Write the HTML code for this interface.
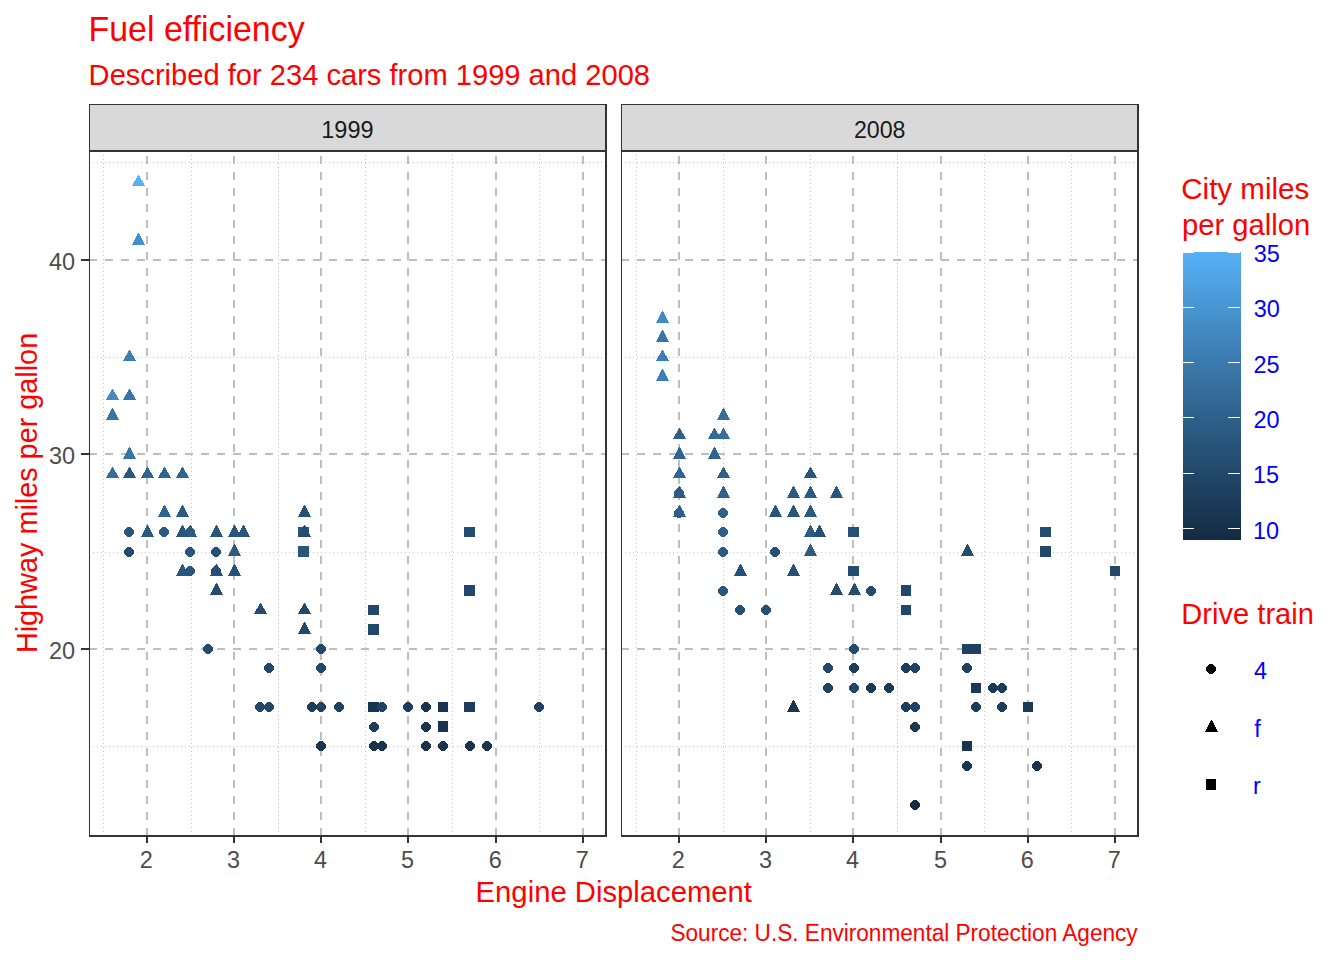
<!DOCTYPE html>
<html><head><meta charset="utf-8"><title>Fuel efficiency</title><style>html,body{margin:0;padding:0;background:#fff;width:1344px;height:960px;overflow:hidden}svg{display:block;font-family:"Liberation Sans",sans-serif}</style></head><body>
<svg width="1344" height="960" viewBox="0 0 1344 960" font-family="Liberation Sans, sans-serif">
<rect width="1344" height="960" fill="#FFFFFF"/>
<rect x="89" y="104" width="518" height="47" fill="#D9D9D9"/>
<g shape-rendering="crispEdges"><line x1="103.5" y1="836" x2="103.5" y2="152" stroke="#C4C4C4" stroke-width="1" stroke-dasharray="1 3"/><line x1="191.5" y1="836" x2="191.5" y2="152" stroke="#C4C4C4" stroke-width="1" stroke-dasharray="1 3"/><line x1="278.5" y1="836" x2="278.5" y2="152" stroke="#C4C4C4" stroke-width="1" stroke-dasharray="1 3"/><line x1="365.5" y1="836" x2="365.5" y2="152" stroke="#C4C4C4" stroke-width="1" stroke-dasharray="1 3"/><line x1="452.5" y1="836" x2="452.5" y2="152" stroke="#C4C4C4" stroke-width="1" stroke-dasharray="1 3"/><line x1="539.5" y1="836" x2="539.5" y2="152" stroke="#C4C4C4" stroke-width="1" stroke-dasharray="1 3"/><line x1="89" y1="162.5" x2="605" y2="162.5" stroke="#C4C4C4" stroke-width="1" stroke-dasharray="1 3"/><line x1="89" y1="357.5" x2="605" y2="357.5" stroke="#C4C4C4" stroke-width="1" stroke-dasharray="1 3"/><line x1="89" y1="552.5" x2="605" y2="552.5" stroke="#C4C4C4" stroke-width="1" stroke-dasharray="1 3"/><line x1="89" y1="746.5" x2="605" y2="746.5" stroke="#C4C4C4" stroke-width="1" stroke-dasharray="1 3"/><line x1="147" y1="836" x2="147" y2="152" stroke="#BEBEBE" stroke-width="2" stroke-dasharray="8 8"/><line x1="234" y1="836" x2="234" y2="152" stroke="#BEBEBE" stroke-width="2" stroke-dasharray="8 8"/><line x1="321" y1="836" x2="321" y2="152" stroke="#BEBEBE" stroke-width="2" stroke-dasharray="8 8"/><line x1="408" y1="836" x2="408" y2="152" stroke="#BEBEBE" stroke-width="2" stroke-dasharray="8 8"/><line x1="496" y1="836" x2="496" y2="152" stroke="#BEBEBE" stroke-width="2" stroke-dasharray="8 8"/><line x1="583" y1="836" x2="583" y2="152" stroke="#BEBEBE" stroke-width="2" stroke-dasharray="8 8"/><line x1="89" y1="260" x2="605" y2="260" stroke="#BEBEBE" stroke-width="2" stroke-dasharray="8 8"/><line x1="89" y1="454" x2="605" y2="454" stroke="#BEBEBE" stroke-width="2" stroke-dasharray="8 8"/><line x1="89" y1="649" x2="605" y2="649" stroke="#BEBEBE" stroke-width="2" stroke-dasharray="8 8"/></g>
<rect x="621" y="104" width="518" height="47" fill="#D9D9D9"/>
<g shape-rendering="crispEdges"><line x1="636.5" y1="836" x2="636.5" y2="152" stroke="#C4C4C4" stroke-width="1" stroke-dasharray="1 3"/><line x1="723.5" y1="836" x2="723.5" y2="152" stroke="#C4C4C4" stroke-width="1" stroke-dasharray="1 3"/><line x1="810.5" y1="836" x2="810.5" y2="152" stroke="#C4C4C4" stroke-width="1" stroke-dasharray="1 3"/><line x1="897.5" y1="836" x2="897.5" y2="152" stroke="#C4C4C4" stroke-width="1" stroke-dasharray="1 3"/><line x1="984.5" y1="836" x2="984.5" y2="152" stroke="#C4C4C4" stroke-width="1" stroke-dasharray="1 3"/><line x1="1071.5" y1="836" x2="1071.5" y2="152" stroke="#C4C4C4" stroke-width="1" stroke-dasharray="1 3"/><line x1="621" y1="162.5" x2="1137" y2="162.5" stroke="#C4C4C4" stroke-width="1" stroke-dasharray="1 3"/><line x1="621" y1="357.5" x2="1137" y2="357.5" stroke="#C4C4C4" stroke-width="1" stroke-dasharray="1 3"/><line x1="621" y1="552.5" x2="1137" y2="552.5" stroke="#C4C4C4" stroke-width="1" stroke-dasharray="1 3"/><line x1="621" y1="746.5" x2="1137" y2="746.5" stroke="#C4C4C4" stroke-width="1" stroke-dasharray="1 3"/><line x1="679" y1="836" x2="679" y2="152" stroke="#BEBEBE" stroke-width="2" stroke-dasharray="8 8"/><line x1="766" y1="836" x2="766" y2="152" stroke="#BEBEBE" stroke-width="2" stroke-dasharray="8 8"/><line x1="853" y1="836" x2="853" y2="152" stroke="#BEBEBE" stroke-width="2" stroke-dasharray="8 8"/><line x1="941" y1="836" x2="941" y2="152" stroke="#BEBEBE" stroke-width="2" stroke-dasharray="8 8"/><line x1="1028" y1="836" x2="1028" y2="152" stroke="#BEBEBE" stroke-width="2" stroke-dasharray="8 8"/><line x1="1115" y1="836" x2="1115" y2="152" stroke="#BEBEBE" stroke-width="2" stroke-dasharray="8 8"/><line x1="621" y1="260" x2="1137" y2="260" stroke="#BEBEBE" stroke-width="2" stroke-dasharray="8 8"/><line x1="621" y1="454" x2="1137" y2="454" stroke="#BEBEBE" stroke-width="2" stroke-dasharray="8 8"/><line x1="621" y1="649" x2="1137" y2="649" stroke="#BEBEBE" stroke-width="2" stroke-dasharray="8 8"/></g>
<g shape-rendering="crispEdges"><path d="M130 467L130 468L131 468L131 469L131 469L131 470L132 470L132 471L132 471L132 472L133 472L133 473L134 473L134 474L134 474L134 475L135 475L135 476L135 476L135 477L136 477L136 478L123 478L123 477L124 477L124 476L124 476L124 475L125 475L125 474L125 474L125 473L126 473L126 472L127 472L127 471L127 471L127 470L128 470L128 469L128 469L128 468L129 468L129 467Z" fill="#29567D"/><path d="M130 467L130 468L131 468L131 469L131 469L131 470L132 470L132 471L132 471L132 472L133 472L133 473L134 473L134 474L134 474L134 475L135 475L135 476L135 476L135 477L136 477L136 478L123 478L123 477L124 477L124 476L124 476L124 475L125 475L125 474L125 474L125 473L126 473L126 472L127 472L127 471L127 471L127 470L128 470L128 469L128 469L128 468L129 468L129 467Z" fill="#306591"/><path d="M680 428L680 429L681 429L681 430L681 430L681 431L682 431L682 432L682 432L682 433L683 433L683 434L684 434L684 435L684 435L684 436L685 436L685 437L685 437L685 438L686 438L686 439L673 439L673 438L674 438L674 437L674 437L674 436L675 436L675 435L675 435L675 434L676 434L676 433L677 433L677 432L677 432L677 431L678 431L678 430L678 430L678 429L679 429L679 428Z" fill="#2E608A"/><path d="M680 447L680 448L681 448L681 449L681 449L681 450L682 450L682 451L682 451L682 452L683 452L683 453L683 453L683 454L684 454L684 455L684 455L684 456L685 456L685 457L685 457L685 458L686 458L686 459L673 459L673 458L674 458L674 457L674 457L674 456L675 456L675 455L675 455L675 454L676 454L676 453L676 453L676 452L677 452L677 451L677 451L677 450L678 450L678 449L678 449L678 448L679 448L679 447Z" fill="#306591"/><path d="M217 525L217 526L218 526L218 527L218 527L218 528L219 528L219 529L219 529L219 530L220 530L220 531L220 531L220 532L221 532L221 533L221 533L221 534L222 534L222 535L222 535L222 536L223 536L223 537L210 537L210 536L211 536L211 535L211 535L211 534L212 534L212 533L212 533L212 532L213 532L213 531L213 531L213 530L214 530L214 529L214 529L214 528L215 528L215 527L215 527L215 526L216 526L216 525Z" fill="#244C6F"/><path d="M217 525L217 526L218 526L218 527L218 527L218 528L219 528L219 529L219 529L219 530L220 530L220 531L220 531L220 532L221 532L221 533L221 533L221 534L222 534L222 535L222 535L222 536L223 536L223 537L210 537L210 536L211 536L211 535L211 535L211 534L212 534L212 533L212 533L212 532L213 532L213 531L213 531L213 530L214 530L214 529L214 529L214 528L215 528L215 527L215 527L215 526L216 526L216 525Z" fill="#29567D"/><path d="M776 505L776 506L777 506L777 507L777 507L777 508L778 508L778 509L778 509L778 510L779 510L779 511L779 511L779 512L780 512L780 513L780 513L780 514L781 514L781 515L781 515L781 516L782 516L782 517L769 517L769 516L770 516L770 515L770 515L770 514L771 514L771 513L771 513L771 512L772 512L772 511L772 511L772 510L773 510L773 509L773 509L773 508L774 508L774 507L774 507L774 506L775 506L775 505Z" fill="#29567D"/><path d="M127 527L131 527L131 528L132 528L132 529L133 529L133 530L134 530L134 534L133 534L133 535L132 535L132 536L131 536L131 537L127 537L127 536L126 536L126 535L125 535L125 534L124 534L124 530L125 530L125 529L126 529L126 528L127 528Z" fill="#29567D"/><path d="M127 547L131 547L131 548L132 548L132 549L133 549L133 550L134 550L134 554L133 554L133 555L132 555L132 556L131 556L131 557L127 557L127 556L126 556L126 555L125 555L125 554L124 554L124 550L125 550L125 549L126 549L126 548L127 548Z" fill="#244C6F"/><path d="M677 488L681 488L681 489L682 489L682 490L683 490L683 491L684 491L684 495L683 495L683 496L682 496L682 497L681 497L681 498L677 498L677 497L676 497L676 496L675 496L675 495L674 495L674 491L675 491L675 490L676 490L676 489L677 489Z" fill="#2E608A"/><path d="M677 508L681 508L681 509L682 509L682 510L683 510L683 511L684 511L684 515L683 515L683 516L682 516L682 517L681 517L681 518L677 518L677 517L676 517L676 516L675 516L675 515L674 515L674 511L675 511L675 510L676 510L676 509L677 509Z" fill="#2B5B83"/><path d="M214 547L218 547L218 548L219 548L219 549L220 549L220 550L221 550L221 554L220 554L220 555L219 555L219 556L218 556L218 557L214 557L214 556L213 556L213 555L212 555L212 554L211 554L211 550L212 550L212 549L213 549L213 548L214 548Z" fill="#214769"/><path d="M214 547L218 547L218 548L219 548L219 549L220 549L220 550L221 550L221 554L220 554L220 555L219 555L219 556L218 556L218 557L214 557L214 556L213 556L213 555L212 555L212 554L211 554L211 550L212 550L212 549L213 549L213 548L214 548Z" fill="#265176"/><path d="M773 547L777 547L777 548L778 548L778 549L779 549L779 550L780 550L780 554L779 554L779 555L778 555L778 556L777 556L777 557L773 557L773 556L772 556L772 555L771 555L771 554L770 554L770 550L771 550L771 549L772 549L772 548L773 548Z" fill="#265176"/><path d="M773 547L777 547L777 548L778 548L778 549L779 549L779 550L780 550L780 554L779 554L779 555L778 555L778 556L777 556L777 557L773 557L773 556L772 556L772 555L771 555L771 554L770 554L770 550L771 550L771 549L772 549L772 548L773 548Z" fill="#214769"/><path d="M214 566L218 566L218 567L219 567L219 568L220 568L220 569L221 569L221 573L220 573L220 574L219 574L219 575L218 575L218 576L214 576L214 575L213 575L213 574L212 574L212 573L211 573L211 569L212 569L212 568L213 568L213 567L214 567Z" fill="#214769"/><path d="M773 547L777 547L777 548L778 548L778 549L779 549L779 550L780 550L780 554L779 554L779 555L778 555L778 556L777 556L777 557L773 557L773 556L772 556L772 555L771 555L771 554L770 554L770 550L771 550L771 549L772 549L772 548L773 548Z" fill="#265176"/><path d="M869 586L873 586L873 587L874 587L874 588L875 588L875 589L876 589L876 593L875 593L875 594L874 594L874 595L873 595L873 596L869 596L869 595L868 595L868 594L867 594L867 593L866 593L866 589L867 589L867 588L868 588L868 587L869 587Z" fill="#244C6F"/><path d="M962 644H972V654H962Z" fill="#1F4262"/><path d="M962 741H972V751H962Z" fill="#18344F"/><path d="M962 644H972V654H962Z" fill="#1F4262"/><path d="M464 702H475V712H464Z" fill="#1C3D5C"/><path d="M1023 702H1033V712H1023Z" fill="#1A3955"/><path d="M464 527H475V537H464Z" fill="#244C6F"/><path d="M464 585H475V596H464Z" fill="#214769"/><path d="M1040 527H1051V537H1040Z" fill="#244C6F"/><path d="M1040 546H1051V557H1040Z" fill="#214769"/><path d="M1110 566H1120V576H1110Z" fill="#214769"/><path d="M965 663L969 663L969 664L970 664L970 665L971 665L971 666L972 666L972 670L971 670L971 671L970 671L970 672L969 672L969 673L965 673L965 672L964 672L964 671L963 671L963 670L962 670L962 666L963 666L963 665L964 665L964 664L965 664Z" fill="#1F4262"/><path d="M965 761L969 761L969 762L970 762L970 763L971 763L971 764L972 764L972 768L971 768L971 769L970 769L970 770L969 770L969 771L965 771L965 770L964 770L964 769L963 769L963 768L962 768L962 764L963 764L963 763L964 763L964 762L965 762Z" fill="#18344F"/><path d="M468 741L472 741L472 742L473 742L473 743L474 743L474 744L475 744L475 748L474 748L474 749L473 749L473 750L472 750L472 751L468 751L468 750L467 750L467 749L466 749L466 748L465 748L465 744L466 744L466 743L467 743L467 742L468 742Z" fill="#18344F"/><path d="M537 702L541 702L541 703L542 703L542 704L543 704L543 705L544 705L544 709L543 709L543 710L542 710L542 711L541 711L541 712L537 712L537 711L536 711L536 710L535 710L535 709L534 709L534 705L535 705L535 704L536 704L536 703L537 703Z" fill="#1F4262"/><path d="M183 505L183 506L184 506L184 507L184 507L184 508L185 508L185 509L185 509L185 510L186 510L186 511L186 511L186 512L187 512L187 513L187 513L187 514L188 514L188 515L188 515L188 516L189 516L189 517L176 517L176 516L177 516L177 515L177 515L177 514L178 514L178 513L178 513L178 512L179 512L179 511L179 511L179 510L180 510L180 509L180 509L180 508L181 508L181 507L181 507L181 506L182 506L182 505Z" fill="#2B5B83"/><path d="M715 447L715 448L716 448L716 449L716 449L716 450L717 450L717 451L717 451L717 452L718 452L718 453L718 453L718 454L719 454L719 455L719 455L719 456L720 456L720 457L720 457L720 458L721 458L721 459L708 459L708 458L709 458L709 457L709 457L709 456L710 456L710 455L710 455L710 454L711 454L711 453L711 453L711 452L712 452L712 451L712 451L712 450L713 450L713 449L713 449L713 448L714 448L714 447Z" fill="#336A98"/><path d="M244 525L244 526L245 526L245 527L245 527L245 528L246 528L246 529L246 529L246 530L247 530L247 531L247 531L247 532L248 532L248 533L248 533L248 534L249 534L249 535L249 535L249 536L250 536L250 537L237 537L237 536L238 536L238 535L238 535L238 534L239 534L239 533L239 533L239 532L240 532L240 531L240 531L240 530L241 530L241 529L241 529L241 528L242 528L242 527L242 527L242 526L243 526L243 525Z" fill="#29567D"/><path d="M811 467L811 468L812 468L812 469L812 469L812 470L813 470L813 471L813 471L813 472L814 472L814 473L815 473L815 474L815 474L815 475L816 475L816 476L816 476L816 477L817 477L817 478L804 478L804 477L805 477L805 476L805 476L805 475L806 475L806 474L806 474L806 473L807 473L807 472L808 472L808 471L808 471L808 470L809 470L809 469L809 469L809 468L810 468L810 467Z" fill="#29567D"/><path d="M820 525L820 526L821 526L821 527L821 527L821 528L822 528L822 529L822 529L822 530L823 530L823 531L823 531L823 532L824 532L824 533L824 533L824 534L825 534L825 535L825 535L825 536L826 536L826 537L813 537L813 536L814 536L814 535L814 535L814 534L815 534L815 533L815 533L815 532L816 532L816 531L816 531L816 530L817 530L817 529L817 529L817 528L818 528L818 527L818 527L818 526L819 526L819 525Z" fill="#265176"/><path d="M183 564L183 565L184 565L184 566L184 566L184 567L185 567L185 568L185 568L185 569L186 569L186 570L186 570L186 571L187 571L187 572L187 572L187 573L188 573L188 574L188 574L188 575L189 575L189 576L176 576L176 575L177 575L177 574L177 574L177 573L178 573L178 572L178 572L178 571L179 571L179 570L179 570L179 569L180 569L180 568L180 568L180 567L181 567L181 566L181 566L181 565L182 565L182 564Z" fill="#29567D"/><path d="M235 564L235 565L236 565L236 566L236 566L236 567L237 567L237 568L237 568L237 569L238 569L238 570L238 570L238 571L239 571L239 572L239 572L239 573L240 573L240 574L240 574L240 575L241 575L241 576L228 576L228 575L229 575L229 574L229 574L229 573L230 573L230 572L230 572L230 571L231 571L231 570L231 570L231 569L232 569L232 568L232 568L232 567L233 567L233 566L233 566L233 565L234 565L234 564Z" fill="#265176"/><path d="M261 603L261 604L262 604L262 605L262 605L262 606L263 606L263 607L263 607L263 608L264 608L264 609L265 609L265 610L265 610L265 611L266 611L266 612L266 612L266 613L267 613L267 614L254 614L254 613L255 613L255 612L255 612L255 611L256 611L256 610L256 610L256 609L257 609L257 608L258 608L258 607L258 607L258 606L259 606L259 605L259 605L259 604L260 604L260 603Z" fill="#244C6F"/><path d="M261 603L261 604L262 604L262 605L262 605L262 606L263 606L263 607L263 607L263 608L264 608L264 609L265 609L265 610L265 610L265 611L266 611L266 612L266 612L266 613L267 613L267 614L254 614L254 613L255 613L255 612L255 612L255 611L256 611L256 610L256 610L256 609L257 609L257 608L258 608L258 607L258 607L258 606L259 606L259 605L259 605L259 604L260 604L260 603Z" fill="#244C6F"/><path d="M794 564L794 565L795 565L795 566L795 566L795 567L796 567L796 568L796 568L796 569L797 569L797 570L797 570L797 571L798 571L798 572L798 572L798 573L799 573L799 574L799 574L799 575L800 575L800 576L787 576L787 575L788 575L788 574L788 574L788 573L789 573L789 572L789 572L789 571L790 571L790 570L790 570L790 569L791 569L791 568L791 568L791 567L792 567L792 566L792 566L792 565L793 565L793 564Z" fill="#265176"/><path d="M794 564L794 565L795 565L795 566L795 566L795 567L796 567L796 568L796 568L796 569L797 569L797 570L797 570L797 571L798 571L798 572L798 572L798 573L799 573L799 574L799 574L799 575L800 575L800 576L787 576L787 575L788 575L788 574L788 574L788 573L789 573L789 572L789 572L789 571L790 571L790 570L790 570L790 569L791 569L791 568L791 568L791 567L792 567L792 566L792 566L792 565L793 565L793 564Z" fill="#265176"/><path d="M794 700L794 701L795 701L795 702L795 702L795 703L796 703L796 704L796 704L796 705L797 705L797 706L797 706L797 707L798 707L798 708L798 708L798 709L799 709L799 710L799 710L799 711L800 711L800 712L787 712L787 711L788 711L788 710L788 710L788 709L789 709L789 708L789 708L789 707L790 707L790 706L790 706L790 705L791 705L791 704L791 704L791 703L792 703L792 702L792 702L792 701L793 701L793 700Z" fill="#18344F"/><path d="M305 603L305 604L306 604L306 605L306 605L306 606L307 606L307 607L307 607L307 608L308 608L308 609L309 609L309 610L309 610L309 611L310 611L310 612L310 612L310 613L311 613L311 614L298 614L298 613L299 613L299 612L299 612L299 611L300 611L300 610L300 610L300 609L301 609L301 608L302 608L302 607L302 607L302 606L303 606L303 605L303 605L303 604L304 604L304 603Z" fill="#214769"/><path d="M305 622L305 623L306 623L306 624L306 624L306 625L307 625L307 626L307 626L307 627L308 627L308 628L308 628L308 629L309 629L309 630L309 630L309 631L310 631L310 632L310 632L310 633L311 633L311 634L298 634L298 633L299 633L299 632L299 632L299 631L300 631L300 630L300 630L300 629L301 629L301 628L301 628L301 627L302 627L302 626L302 626L302 625L303 625L303 624L303 624L303 623L304 623L304 622Z" fill="#214769"/><path d="M837 583L837 584L838 584L838 585L838 585L838 586L839 586L839 587L839 587L839 588L840 588L840 589L840 589L840 590L841 590L841 591L841 591L841 592L842 592L842 593L842 593L842 594L843 594L843 595L830 595L830 594L831 594L831 593L831 593L831 592L832 592L832 591L832 591L832 590L833 590L833 589L833 589L833 588L834 588L834 587L834 587L834 586L835 586L835 585L835 585L835 584L836 584L836 583Z" fill="#244C6F"/><path d="M855 583L855 584L856 584L856 585L856 585L856 586L857 586L857 587L857 587L857 588L858 588L858 589L858 589L858 590L859 590L859 591L859 591L859 592L860 592L860 593L860 593L860 594L861 594L861 595L848 595L848 594L849 594L849 593L849 593L849 592L850 592L850 591L850 591L850 590L851 590L851 589L851 589L851 588L852 588L852 587L852 587L852 586L853 586L853 585L853 585L853 584L854 584L854 583Z" fill="#244C6F"/><path d="M826 663L830 663L830 664L831 664L831 665L832 665L832 666L833 666L833 670L832 670L832 671L831 671L831 672L830 672L830 673L826 673L826 672L825 672L825 671L824 671L824 670L823 670L823 666L824 666L824 665L825 665L825 664L826 664Z" fill="#214769"/><path d="M826 683L830 683L830 684L831 684L831 685L832 685L832 686L833 686L833 690L832 690L832 691L831 691L831 692L830 692L830 693L826 693L826 692L825 692L825 691L824 691L824 690L823 690L823 686L824 686L824 685L825 685L825 684L826 684Z" fill="#1F4262"/><path d="M310 702L314 702L314 703L315 703L315 704L316 704L316 705L317 705L317 709L316 709L316 710L315 710L315 711L314 711L314 712L310 712L310 711L309 711L309 710L308 710L308 709L307 709L307 705L308 705L308 704L309 704L309 703L310 703Z" fill="#1C3D5C"/><path d="M310 702L314 702L314 703L315 703L315 704L316 704L316 705L317 705L317 709L316 709L316 710L315 710L315 711L314 711L314 712L310 712L310 711L309 711L309 710L308 710L308 709L307 709L307 705L308 705L308 704L309 704L309 703L310 703Z" fill="#1F4262"/><path d="M913 663L917 663L917 664L918 664L918 665L919 665L919 666L920 666L920 670L919 670L919 671L918 671L918 672L917 672L917 673L913 673L913 672L912 672L912 671L911 671L911 670L910 670L910 666L911 666L911 665L912 665L912 664L913 664Z" fill="#1F4262"/><path d="M913 663L917 663L917 664L918 664L918 665L919 665L919 666L920 666L920 670L919 670L919 671L918 671L918 672L917 672L917 673L913 673L913 672L912 672L912 671L911 671L911 670L910 670L910 666L911 666L911 665L912 665L912 664L913 664Z" fill="#1F4262"/><path d="M913 800L917 800L917 801L918 801L918 802L919 802L919 803L920 803L920 807L919 807L919 808L918 808L918 809L917 809L917 810L913 810L913 809L912 809L912 808L911 808L911 807L910 807L910 803L911 803L911 802L912 802L912 801L913 801Z" fill="#132B43"/><path d="M424 702L428 702L428 703L429 703L429 704L430 704L430 705L431 705L431 709L430 709L430 710L429 710L429 711L428 711L428 712L424 712L424 711L423 711L423 710L422 710L422 709L421 709L421 705L422 705L422 704L423 704L423 703L424 703Z" fill="#18344F"/><path d="M424 741L428 741L428 742L429 742L429 743L430 743L430 744L431 744L431 748L430 748L430 749L429 749L429 750L428 750L428 751L424 751L424 750L423 750L423 749L422 749L422 748L421 748L421 744L422 744L422 743L423 743L423 742L424 742Z" fill="#18344F"/><path d="M310 702L314 702L314 703L315 703L315 704L316 704L316 705L317 705L317 709L316 709L316 710L315 710L315 711L314 711L314 712L310 712L310 711L309 711L309 710L308 710L308 709L307 709L307 705L308 705L308 704L309 704L309 703L310 703Z" fill="#1C3D5C"/><path d="M913 702L917 702L917 703L918 703L918 704L919 704L919 705L920 705L920 709L919 709L919 710L918 710L918 711L917 711L917 712L913 712L913 711L912 711L912 710L911 710L911 709L910 709L910 705L911 705L911 704L912 704L912 703L913 703Z" fill="#1C3D5C"/><path d="M913 800L917 800L917 801L918 801L918 802L919 802L919 803L920 803L920 807L919 807L919 808L918 808L918 809L917 809L917 810L913 810L913 809L912 809L912 808L911 808L911 807L910 807L910 803L911 803L911 802L912 802L912 801L913 801Z" fill="#132B43"/><path d="M913 702L917 702L917 703L918 703L918 704L919 704L919 705L920 705L920 709L919 709L919 710L918 710L918 711L917 711L917 712L913 712L913 711L912 711L912 710L911 710L911 709L910 709L910 705L911 705L911 704L912 704L912 703L913 703Z" fill="#1C3D5C"/><path d="M424 722L428 722L428 723L429 723L429 724L430 724L430 725L431 725L431 729L430 729L430 730L429 730L429 731L428 731L428 732L424 732L424 731L423 731L423 730L422 730L422 729L421 729L421 725L422 725L422 724L423 724L423 723L424 723Z" fill="#18344F"/><path d="M1000 683L1004 683L1004 684L1005 684L1005 685L1006 685L1006 686L1007 686L1007 690L1006 690L1006 691L1005 691L1005 692L1004 692L1004 693L1000 693L1000 692L999 692L999 691L998 691L998 690L997 690L997 686L998 686L998 685L999 685L999 684L1000 684Z" fill="#1C3D5C"/><path d="M485 741L489 741L489 742L490 742L490 743L491 743L491 744L492 744L492 748L491 748L491 749L490 749L490 750L489 750L489 751L485 751L485 750L484 750L484 749L483 749L483 748L482 748L482 744L483 744L483 743L484 743L484 742L485 742Z" fill="#18344F"/><path d="M913 722L917 722L917 723L918 723L918 724L919 724L919 725L920 725L920 729L919 729L919 730L918 730L918 731L917 731L917 732L913 732L913 731L912 731L912 730L911 730L911 729L910 729L910 725L911 725L911 724L912 724L912 723L913 723Z" fill="#1A3955"/><path d="M913 800L917 800L917 801L918 801L918 802L919 802L919 803L920 803L920 807L919 807L919 808L918 808L918 809L917 809L917 810L913 810L913 809L912 809L912 808L911 808L911 807L910 807L910 803L911 803L911 802L912 802L912 801L913 801Z" fill="#132B43"/><path d="M913 702L917 702L917 703L918 703L918 704L919 704L919 705L920 705L920 709L919 709L919 710L918 710L918 711L917 711L917 712L913 712L913 711L912 711L912 710L911 710L911 709L910 709L910 705L911 705L911 704L912 704L912 703L913 703Z" fill="#1C3D5C"/><path d="M913 702L917 702L917 703L918 703L918 704L919 704L919 705L920 705L920 709L919 709L919 710L918 710L918 711L917 711L917 712L913 712L913 711L912 711L912 710L911 710L911 709L910 709L910 705L911 705L911 704L912 704L912 703L913 703Z" fill="#1C3D5C"/><path d="M913 722L917 722L917 723L918 723L918 724L919 724L919 725L920 725L920 729L919 729L919 730L918 730L918 731L917 731L917 732L913 732L913 731L912 731L912 730L911 730L911 729L910 729L910 725L911 725L911 724L912 724L912 723L913 723Z" fill="#1A3955"/><path d="M913 800L917 800L917 801L918 801L918 802L919 802L919 803L920 803L920 807L919 807L919 808L918 808L918 809L917 809L917 810L913 810L913 809L912 809L912 808L911 808L911 807L910 807L910 803L911 803L911 802L912 802L912 801L913 801Z" fill="#132B43"/><path d="M424 741L428 741L428 742L429 742L429 743L430 743L430 744L431 744L431 748L430 748L430 749L429 749L429 750L428 750L428 751L424 751L424 750L423 750L423 749L422 749L422 748L421 748L421 744L422 744L422 743L423 743L423 742L424 742Z" fill="#18344F"/><path d="M424 722L428 722L428 723L429 723L429 724L430 724L430 725L431 725L431 729L430 729L430 730L429 730L429 731L428 731L428 732L424 732L424 731L423 731L423 730L422 730L422 729L421 729L421 725L422 725L422 724L423 724L423 723L424 723Z" fill="#18344F"/><path d="M1000 702L1004 702L1004 703L1005 703L1005 704L1006 704L1006 705L1007 705L1007 709L1006 709L1006 710L1005 710L1005 711L1004 711L1004 712L1000 712L1000 711L999 711L999 710L998 710L998 709L997 709L997 705L998 705L998 704L999 704L999 703L1000 703Z" fill="#1C3D5C"/><path d="M485 741L489 741L489 742L490 742L490 743L491 743L491 744L492 744L492 748L491 748L491 749L490 749L490 750L489 750L489 751L485 751L485 750L484 750L484 749L483 749L483 748L482 748L482 744L483 744L483 743L484 743L484 742L485 742Z" fill="#18344F"/><path d="M368 702H379V712H368Z" fill="#18344F"/><path d="M438 702H448V712H438Z" fill="#18344F"/><path d="M971 683H981V693H971Z" fill="#1A3955"/><path d="M319 702L323 702L323 703L324 703L324 704L325 704L325 705L326 705L326 709L325 709L325 710L324 710L324 711L323 711L323 712L319 712L319 711L318 711L318 710L317 710L317 709L316 709L316 705L317 705L317 704L318 704L318 703L319 703Z" fill="#1F4262"/><path d="M319 663L323 663L323 664L324 664L324 665L325 665L325 666L326 666L326 670L325 670L325 671L324 671L324 672L323 672L323 673L319 673L319 672L318 672L318 671L317 671L317 670L316 670L316 666L317 666L317 665L318 665L318 664L319 664Z" fill="#214769"/><path d="M319 702L323 702L323 703L324 703L324 704L325 704L325 705L326 705L326 709L325 709L325 710L324 710L324 711L323 711L323 712L319 712L319 711L318 711L318 710L317 710L317 709L316 709L316 705L317 705L317 704L318 704L318 703L319 703Z" fill="#1F4262"/><path d="M852 663L856 663L856 664L857 664L857 665L858 665L858 666L859 666L859 670L858 670L858 671L857 671L857 672L856 672L856 673L852 673L852 672L851 672L851 671L850 671L850 670L849 670L849 666L850 666L850 665L851 665L851 664L852 664Z" fill="#1C3D5C"/><path d="M904 663L908 663L908 664L909 664L909 665L910 665L910 666L911 666L911 670L910 670L910 671L909 671L909 672L908 672L908 673L904 673L904 672L903 672L903 671L902 671L902 670L901 670L901 666L902 666L902 665L903 665L903 664L904 664Z" fill="#1C3D5C"/><path d="M406 702L410 702L410 703L411 703L411 704L412 704L412 705L413 705L413 709L412 709L412 710L411 710L411 711L410 711L410 712L406 712L406 711L405 711L405 710L404 710L404 709L403 709L403 705L404 705L404 704L405 704L405 703L406 703Z" fill="#1C3D5C"/><path d="M337 702L341 702L341 703L342 703L342 704L343 704L343 705L344 705L344 709L343 709L343 710L342 710L342 711L341 711L341 712L337 712L337 711L336 711L336 710L335 710L335 709L334 709L334 705L335 705L335 704L336 704L336 703L337 703Z" fill="#1F4262"/><path d="M337 702L341 702L341 703L342 703L342 704L343 704L343 705L344 705L344 709L343 709L343 710L342 710L342 711L341 711L341 712L337 712L337 711L336 711L336 710L335 710L335 709L334 709L334 705L335 705L335 704L336 704L336 703L337 703Z" fill="#1F4262"/><path d="M372 722L376 722L376 723L377 723L377 724L378 724L378 725L379 725L379 729L378 729L378 730L377 730L377 731L376 731L376 732L372 732L372 731L371 731L371 730L370 730L370 729L369 729L369 725L370 725L370 724L371 724L371 723L372 723Z" fill="#1C3D5C"/><path d="M372 722L376 722L376 723L377 723L377 724L378 724L378 725L379 725L379 729L378 729L378 730L377 730L377 731L376 731L376 732L372 732L372 731L371 731L371 730L370 730L370 729L369 729L369 725L370 725L370 724L371 724L371 723L372 723Z" fill="#1C3D5C"/><path d="M904 702L908 702L908 703L909 703L909 704L910 704L910 705L911 705L911 709L910 709L910 710L909 710L909 711L908 711L908 712L904 712L904 711L903 711L903 710L902 710L902 709L901 709L901 705L902 705L902 704L903 704L903 703L904 703Z" fill="#1C3D5C"/><path d="M441 741L445 741L445 742L446 742L446 743L447 743L447 744L448 744L448 748L447 748L447 749L446 749L446 750L445 750L445 751L441 751L441 750L440 750L440 749L439 749L439 748L438 748L438 744L439 744L439 743L440 743L440 742L441 742Z" fill="#18344F"/><path d="M974 702L978 702L978 703L979 703L979 704L980 704L980 705L981 705L981 709L980 709L980 710L979 710L979 711L978 711L978 712L974 712L974 711L973 711L973 710L972 710L972 709L971 709L971 705L972 705L972 704L973 704L973 703L974 703Z" fill="#1C3D5C"/><path d="M298 527H309V537H298Z" fill="#29567D"/><path d="M298 546H309V557H298Z" fill="#29567D"/><path d="M848 527H859V537H848Z" fill="#265176"/><path d="M848 566H859V576H848Z" fill="#244C6F"/><path d="M368 624H379V635H368Z" fill="#214769"/><path d="M368 605H379V615H368Z" fill="#214769"/><path d="M901 585H911V596H901Z" fill="#214769"/><path d="M901 605H911V615H901Z" fill="#214769"/><path d="M971 644H981V654H971Z" fill="#1F4262"/><path d="M113 389L113 390L114 390L114 391L114 391L114 392L115 392L115 393L115 393L115 394L116 394L116 395L117 395L117 396L117 396L117 397L118 397L118 398L118 398L118 399L119 399L119 400L106 400L106 399L107 399L107 398L107 398L107 397L108 397L108 396L108 396L108 395L109 395L109 394L110 394L110 393L110 393L110 392L111 392L111 391L111 391L111 390L112 390L112 389Z" fill="#438AC3"/><path d="M113 408L113 409L114 409L114 410L114 410L114 411L115 411L115 412L115 412L115 413L116 413L116 414L116 414L116 415L117 415L117 416L117 416L117 417L118 417L118 418L118 418L118 419L119 419L119 420L106 420L106 419L107 419L107 418L107 418L107 417L108 417L108 416L108 416L108 415L109 415L109 414L109 414L109 413L110 413L110 412L110 412L110 411L111 411L111 410L111 410L111 409L112 409L112 408Z" fill="#3875A6"/><path d="M113 408L113 409L114 409L114 410L114 410L114 411L115 411L115 412L115 412L115 413L116 413L116 414L116 414L116 415L117 415L117 416L117 416L117 417L118 417L118 418L118 418L118 419L119 419L119 420L106 420L106 419L107 419L107 418L107 418L107 417L108 417L108 416L108 416L108 415L109 415L109 414L109 414L109 413L110 413L110 412L110 412L110 411L111 411L111 410L111 410L111 409L112 409L112 408Z" fill="#3B7AAD"/><path d="M113 467L113 468L114 468L114 469L114 469L114 470L115 470L115 471L115 471L115 472L116 472L116 473L117 473L117 474L117 474L117 475L118 475L118 476L118 476L118 477L119 477L119 478L106 478L106 477L107 477L107 476L107 476L107 475L108 475L108 474L108 474L108 473L109 473L109 472L110 472L110 471L110 471L110 470L111 470L111 469L111 469L111 468L112 468L112 467Z" fill="#356F9F"/><path d="M113 408L113 409L114 409L114 410L114 410L114 411L115 411L115 412L115 412L115 413L116 413L116 414L116 414L116 415L117 415L117 416L117 416L117 417L118 417L118 418L118 418L118 419L119 419L119 420L106 420L106 419L107 419L107 418L107 418L107 417L108 417L108 416L108 416L108 415L109 415L109 414L109 414L109 413L110 413L110 412L110 412L110 411L111 411L111 410L111 410L111 409L112 409L112 408Z" fill="#3875A6"/><path d="M663 369L663 370L664 370L664 371L664 371L664 372L665 372L665 373L665 373L665 374L666 374L666 375L666 375L666 376L667 376L667 377L667 377L667 378L668 378L668 379L668 379L668 380L669 380L669 381L656 381L656 380L657 380L657 379L657 379L657 378L658 378L658 377L658 377L658 376L659 376L659 375L659 375L659 374L660 374L660 373L660 373L660 372L661 372L661 371L661 371L661 370L662 370L662 369Z" fill="#3D7FB4"/><path d="M663 330L663 331L664 331L664 332L664 332L664 333L665 333L665 334L665 334L665 335L666 335L666 336L666 336L666 337L667 337L667 338L667 338L667 339L668 339L668 340L668 340L668 341L669 341L669 342L656 342L656 341L657 341L657 340L657 340L657 339L658 339L658 338L658 338L658 337L659 337L659 336L659 336L659 335L660 335L660 334L660 334L660 333L661 333L661 332L661 332L661 331L662 331L662 330Z" fill="#3B7AAD"/><path d="M663 330L663 331L664 331L664 332L664 332L664 333L665 333L665 334L665 334L665 335L666 335L666 336L666 336L666 337L667 337L667 338L667 338L667 339L668 339L668 340L668 340L668 341L669 341L669 342L656 342L656 341L657 341L657 340L657 340L657 339L658 339L658 338L658 338L658 337L659 337L659 336L659 336L659 335L660 335L660 334L660 334L660 333L661 333L661 332L661 332L661 331L662 331L662 330Z" fill="#3875A6"/><path d="M680 467L680 468L681 468L681 469L681 469L681 470L682 470L682 471L682 471L682 472L683 472L683 473L684 473L684 474L684 474L684 475L685 475L685 476L685 476L685 477L686 477L686 478L673 478L673 477L674 477L674 476L674 476L674 475L675 475L675 474L675 474L675 473L676 473L676 472L677 472L677 471L677 471L677 470L678 470L678 469L678 469L678 468L679 468L679 467Z" fill="#306591"/><path d="M183 525L183 526L184 526L184 527L184 527L184 528L185 528L185 529L185 529L185 530L186 530L186 531L186 531L186 532L187 532L187 533L187 533L187 534L188 534L188 535L188 535L188 536L189 536L189 537L176 537L176 536L177 536L177 535L177 535L177 534L178 534L178 533L178 533L178 532L179 532L179 531L179 531L179 530L180 530L180 529L180 529L180 528L181 528L181 527L181 527L181 526L182 526L182 525Z" fill="#29567D"/><path d="M183 505L183 506L184 506L184 507L184 507L184 508L185 508L185 509L185 509L185 510L186 510L186 511L186 511L186 512L187 512L187 513L187 513L187 514L188 514L188 515L188 515L188 516L189 516L189 517L176 517L176 516L177 516L177 515L177 515L177 514L178 514L178 513L178 513L178 512L179 512L179 511L179 511L179 510L180 510L180 509L180 509L180 508L181 508L181 507L181 507L181 506L182 506L182 505Z" fill="#29567D"/><path d="M715 447L715 448L716 448L716 449L716 449L716 450L717 450L717 451L717 451L717 452L718 452L718 453L718 453L718 454L719 454L719 455L719 455L719 456L720 456L720 457L720 457L720 458L721 458L721 459L708 459L708 458L709 458L709 457L709 457L709 456L710 456L710 455L710 455L710 454L711 454L711 453L711 453L711 452L712 452L712 451L712 451L712 450L713 450L713 449L713 449L713 448L714 448L714 447Z" fill="#306591"/><path d="M715 428L715 429L716 429L716 430L716 430L716 431L717 431L717 432L717 432L717 433L718 433L718 434L719 434L719 435L719 435L719 436L720 436L720 437L720 437L720 438L721 438L721 439L708 439L708 438L709 438L709 437L709 437L709 436L710 436L710 435L710 435L710 434L711 434L711 433L712 433L712 432L712 432L712 431L713 431L713 430L713 430L713 429L714 429L714 428Z" fill="#306591"/><path d="M191 525L191 526L192 526L192 527L192 527L192 528L193 528L193 529L193 529L193 530L194 530L194 531L194 531L194 532L195 532L195 533L195 533L195 534L196 534L196 535L196 535L196 536L197 536L197 537L184 537L184 536L185 536L185 535L185 535L185 534L186 534L186 533L186 533L186 532L187 532L187 531L187 531L187 530L188 530L188 529L188 529L188 528L189 528L189 527L189 527L189 526L190 526L190 525Z" fill="#29567D"/><path d="M191 525L191 526L192 526L192 527L192 527L192 528L193 528L193 529L193 529L193 530L194 530L194 531L194 531L194 532L195 532L195 533L195 533L195 534L196 534L196 535L196 535L196 536L197 536L197 537L184 537L184 536L185 536L185 535L185 535L185 534L186 534L186 533L186 533L186 532L187 532L187 531L187 531L187 530L188 530L188 529L188 529L188 528L189 528L189 527L189 527L189 526L190 526L190 525Z" fill="#29567D"/><path d="M794 486L794 487L795 487L795 488L795 488L795 489L796 489L796 490L796 490L796 491L797 491L797 492L797 492L797 493L798 493L798 494L798 494L798 495L799 495L799 496L799 496L799 497L800 497L800 498L787 498L787 497L788 497L788 496L788 496L788 495L789 495L789 494L789 494L789 493L790 493L790 492L790 492L790 491L791 491L791 490L791 490L791 489L792 489L792 488L792 488L792 487L793 487L793 486Z" fill="#2B5B83"/><path d="M148 525L148 526L149 526L149 527L149 527L149 528L150 528L150 529L150 529L150 530L151 530L151 531L151 531L151 532L152 532L152 533L152 533L152 534L153 534L153 535L153 535L153 536L154 536L154 537L141 537L141 536L142 536L142 535L142 535L142 534L143 534L143 533L143 533L143 532L144 532L144 531L144 531L144 530L145 530L145 529L145 529L145 528L146 528L146 527L146 527L146 526L147 526L147 525Z" fill="#2B5B83"/><path d="M148 467L148 468L149 468L149 469L149 469L149 470L150 470L150 471L150 471L150 472L151 472L151 473L152 473L152 474L152 474L152 475L153 475L153 476L153 476L153 477L154 477L154 478L141 478L141 477L142 477L142 476L142 476L142 475L143 475L143 474L143 474L143 473L144 473L144 472L145 472L145 471L145 471L145 470L146 470L146 469L146 469L146 468L147 468L147 467Z" fill="#2B5B83"/><path d="M680 486L680 487L681 487L681 488L681 488L681 489L682 489L682 490L682 490L682 491L683 491L683 492L683 492L683 493L684 493L684 494L684 494L684 495L685 495L685 496L685 496L685 497L686 497L686 498L673 498L673 497L674 497L674 496L674 496L674 495L675 495L675 494L675 494L675 493L676 493L676 492L676 492L676 491L677 491L677 490L677 490L677 489L678 489L678 488L678 488L678 487L679 487L679 486Z" fill="#2E608A"/><path d="M680 505L680 506L681 506L681 507L681 507L681 508L682 508L682 509L682 509L682 510L683 510L683 511L683 511L683 512L684 512L684 513L684 513L684 514L685 514L685 515L685 515L685 516L686 516L686 517L673 517L673 516L674 516L674 515L674 515L674 514L675 514L675 513L675 513L675 512L676 512L676 511L676 511L676 510L677 510L677 509L677 509L677 508L678 508L678 507L678 507L678 506L679 506L679 505Z" fill="#2E608A"/><path d="M741 564L741 565L742 565L742 566L742 566L742 567L743 567L743 568L743 568L743 569L744 569L744 570L744 570L744 571L745 571L745 572L745 572L745 573L746 573L746 574L746 574L746 575L747 575L747 576L734 576L734 575L735 575L735 574L735 574L735 573L736 573L736 572L736 572L736 571L737 571L737 570L737 570L737 569L738 569L738 568L738 568L738 567L739 567L739 566L739 566L739 565L740 565L740 564Z" fill="#265176"/><path d="M741 564L741 565L742 565L742 566L742 566L742 567L743 567L743 568L743 568L743 569L744 569L744 570L744 570L744 571L745 571L745 572L745 572L745 573L746 573L746 574L746 574L746 575L747 575L747 576L734 576L734 575L735 575L735 574L735 574L735 573L736 573L736 572L736 572L736 571L737 571L737 570L737 570L737 569L738 569L738 568L738 568L738 567L739 567L739 566L739 566L739 565L740 565L740 564Z" fill="#244C6F"/><path d="M741 564L741 565L742 565L742 566L742 566L742 567L743 567L743 568L743 568L743 569L744 569L744 570L744 570L744 571L745 571L745 572L745 572L745 573L746 573L746 574L746 574L746 575L747 575L747 576L734 576L734 575L735 575L735 574L735 574L735 573L736 573L736 572L736 572L736 571L737 571L737 570L737 570L737 569L738 569L738 568L738 568L738 567L739 567L739 566L739 566L739 565L740 565L740 564Z" fill="#265176"/><path d="M764 605L768 605L768 606L769 606L769 607L770 607L770 608L771 608L771 612L770 612L770 613L769 613L769 614L768 614L768 615L764 615L764 614L763 614L763 613L762 613L762 612L761 612L761 608L762 608L762 607L763 607L763 606L764 606Z" fill="#265176"/><path d="M826 663L830 663L830 664L831 664L831 665L832 665L832 666L833 666L833 670L832 670L832 671L831 671L831 672L830 672L830 673L826 673L826 672L825 672L825 671L824 671L824 670L823 670L823 666L824 666L824 665L825 665L825 664L826 664Z" fill="#214769"/><path d="M319 644L323 644L323 645L324 645L324 646L325 646L325 647L326 647L326 651L325 651L325 652L324 652L324 653L323 653L323 654L319 654L319 653L318 653L318 652L317 652L317 651L316 651L316 647L317 647L317 646L318 646L318 645L319 645Z" fill="#214769"/><path d="M380 702L384 702L384 703L385 703L385 704L386 704L386 705L387 705L387 709L386 709L386 710L385 710L385 711L384 711L384 712L380 712L380 711L379 711L379 710L378 710L378 709L377 709L377 705L378 705L378 704L379 704L379 703L380 703Z" fill="#1F4262"/><path d="M913 800L917 800L917 801L918 801L918 802L919 802L919 803L920 803L920 807L919 807L919 808L918 808L918 809L917 809L917 810L913 810L913 809L912 809L912 808L911 808L911 807L910 807L910 803L911 803L911 802L912 802L912 801L913 801Z" fill="#132B43"/><path d="M913 663L917 663L917 664L918 664L918 665L919 665L919 666L920 666L920 670L919 670L919 671L918 671L918 672L917 672L917 673L913 673L913 672L912 672L912 671L911 671L911 670L910 670L910 666L911 666L911 665L912 665L912 664L913 664Z" fill="#1F4262"/><path d="M1000 683L1004 683L1004 684L1005 684L1005 685L1006 685L1006 686L1007 686L1007 690L1006 690L1006 691L1005 691L1005 692L1004 692L1004 693L1000 693L1000 692L999 692L999 691L998 691L998 690L997 690L997 686L998 686L998 685L999 685L999 684L1000 684Z" fill="#1C3D5C"/><path d="M1035 761L1039 761L1039 762L1040 762L1040 763L1041 763L1041 764L1042 764L1042 768L1041 768L1041 769L1040 769L1040 770L1039 770L1039 771L1035 771L1035 770L1034 770L1034 769L1033 769L1033 768L1032 768L1032 764L1033 764L1033 763L1034 763L1034 762L1035 762Z" fill="#18344F"/><path d="M319 741L323 741L323 742L324 742L324 743L325 743L325 744L326 744L326 748L325 748L325 749L324 749L324 750L323 750L323 751L319 751L319 750L318 750L318 749L317 749L317 748L316 748L316 744L317 744L317 743L318 743L318 742L319 742Z" fill="#18344F"/><path d="M869 683L873 683L873 684L874 684L874 685L875 685L875 686L876 686L876 690L875 690L875 691L874 691L874 692L873 692L873 693L869 693L869 692L868 692L868 691L867 691L867 690L866 690L866 686L867 686L867 685L868 685L868 684L869 684Z" fill="#1A3955"/><path d="M887 683L891 683L891 684L892 684L892 685L893 685L893 686L894 686L894 690L893 690L893 691L892 691L892 692L891 692L891 693L887 693L887 692L886 692L886 691L885 691L885 690L884 690L884 686L885 686L885 685L886 685L886 684L887 684Z" fill="#1A3955"/><path d="M372 741L376 741L376 742L377 742L377 743L378 743L378 744L379 744L379 748L378 748L378 749L377 749L377 750L376 750L376 751L372 751L372 750L371 750L371 749L370 749L370 748L369 748L369 744L370 744L370 743L371 743L371 742L372 742Z" fill="#18344F"/><path d="M438 702H448V712H438Z" fill="#18344F"/><path d="M438 721H448V732H438Z" fill="#18344F"/><path d="M971 683H981V693H971Z" fill="#1A3955"/><path d="M319 702L323 702L323 703L324 703L324 704L325 704L325 705L326 705L326 709L325 709L325 710L324 710L324 711L323 711L323 712L319 712L319 711L318 711L318 710L317 710L317 709L316 709L316 705L317 705L317 704L318 704L318 703L319 703Z" fill="#1F4262"/><path d="M852 663L856 663L856 664L857 664L857 665L858 665L858 666L859 666L859 670L858 670L858 671L857 671L857 672L856 672L856 673L852 673L852 672L851 672L851 671L850 671L850 670L849 670L849 666L850 666L850 665L851 665L851 664L852 664Z" fill="#1C3D5C"/><path d="M904 663L908 663L908 664L909 664L909 665L910 665L910 666L911 666L911 670L910 670L910 671L909 671L909 672L908 672L908 673L904 673L904 672L903 672L903 671L902 671L902 670L901 670L901 666L902 666L902 665L903 665L903 664L904 664Z" fill="#1C3D5C"/><path d="M406 702L410 702L410 703L411 703L411 704L412 704L412 705L413 705L413 709L412 709L412 710L411 710L411 711L410 711L410 712L406 712L406 711L405 711L405 710L404 710L404 709L403 709L403 705L404 705L404 704L405 704L405 703L406 703Z" fill="#1C3D5C"/><path d="M183 467L183 468L184 468L184 469L184 469L184 470L185 470L185 471L185 471L185 472L186 472L186 473L187 473L187 474L187 474L187 475L188 475L188 476L188 476L188 477L189 477L189 478L176 478L176 477L177 477L177 476L177 476L177 475L178 475L178 474L178 474L178 473L179 473L179 472L180 472L180 471L180 471L180 470L181 470L181 469L181 469L181 468L182 468L182 467Z" fill="#306591"/><path d="M183 505L183 506L184 506L184 507L184 507L184 508L185 508L185 509L185 509L185 510L186 510L186 511L186 511L186 512L187 512L187 513L187 513L187 514L188 514L188 515L188 515L188 516L189 516L189 517L176 517L176 516L177 516L177 515L177 515L177 514L178 514L178 513L178 513L178 512L179 512L179 511L179 511L179 510L180 510L180 509L180 509L180 508L181 508L181 507L181 507L181 506L182 506L182 505Z" fill="#2B5B83"/><path d="M724 428L724 429L725 429L725 430L725 430L725 431L726 431L726 432L726 432L726 433L727 433L727 434L728 434L728 435L728 435L728 436L729 436L729 437L729 437L729 438L730 438L730 439L717 439L717 438L718 438L718 437L718 437L718 436L719 436L719 435L719 435L719 434L720 434L720 433L721 433L721 432L721 432L721 431L722 431L722 430L722 430L722 429L723 429L723 428Z" fill="#356F9F"/><path d="M724 408L724 409L725 409L725 410L725 410L725 411L726 411L726 412L726 412L726 413L727 413L727 414L727 414L727 415L728 415L728 416L728 416L728 417L729 417L729 418L729 418L729 419L730 419L730 420L717 420L717 419L718 419L718 418L718 418L718 417L719 417L719 416L719 416L719 415L720 415L720 414L720 414L720 413L721 413L721 412L721 412L721 411L722 411L722 410L722 410L722 409L723 409L723 408Z" fill="#356F9F"/><path d="M811 505L811 506L812 506L812 507L812 507L812 508L813 508L813 509L813 509L813 510L814 510L814 511L814 511L814 512L815 512L815 513L815 513L815 514L816 514L816 515L816 515L816 516L817 516L817 517L804 517L804 516L805 516L805 515L805 515L805 514L806 514L806 513L806 513L806 512L807 512L807 511L807 511L807 510L808 510L808 509L808 509L808 508L809 508L809 507L809 507L809 506L810 506L810 505Z" fill="#2B5B83"/><path d="M811 525L811 526L812 526L812 527L812 527L812 528L813 528L813 529L813 529L813 530L814 530L814 531L814 531L814 532L815 532L815 533L815 533L815 534L816 534L816 535L816 535L816 536L817 536L817 537L804 537L804 536L805 536L805 535L805 535L805 534L806 534L806 533L806 533L806 532L807 532L807 531L807 531L807 530L808 530L808 529L808 529L808 528L809 528L809 527L809 527L809 526L810 526L810 525Z" fill="#2B5B83"/><path d="M235 525L235 526L236 526L236 527L236 527L236 528L237 528L237 529L237 529L237 530L238 530L238 531L238 531L238 532L239 532L239 533L239 533L239 534L240 534L240 535L240 535L240 536L241 536L241 537L228 537L228 536L229 536L229 535L229 535L229 534L230 534L230 533L230 533L230 532L231 532L231 531L231 531L231 530L232 530L232 529L232 529L232 528L233 528L233 527L233 527L233 526L234 526L234 525Z" fill="#29567D"/><path d="M235 544L235 545L236 545L236 546L236 546L236 547L237 547L237 548L237 548L237 549L238 549L238 550L238 550L238 551L239 551L239 552L239 552L239 553L240 553L240 554L240 554L240 555L241 555L241 556L228 556L228 555L229 555L229 554L229 554L229 553L230 553L230 552L230 552L230 551L231 551L231 550L231 550L231 549L232 549L232 548L232 548L232 547L233 547L233 546L233 546L233 545L234 545L234 544Z" fill="#2B5B83"/><path d="M811 544L811 545L812 545L812 546L812 546L812 547L813 547L813 548L813 548L813 549L814 549L814 550L814 550L814 551L815 551L815 552L815 552L815 553L816 553L816 554L816 554L816 555L817 555L817 556L804 556L804 555L805 555L805 554L805 554L805 553L806 553L806 552L806 552L806 551L807 551L807 550L807 550L807 549L808 549L808 548L808 548L808 547L809 547L809 546L809 546L809 545L810 545L810 544Z" fill="#2B5B83"/><path d="M258 702L262 702L262 703L263 703L263 704L264 704L264 705L265 705L265 709L264 709L264 710L263 710L263 711L262 711L262 712L258 712L258 711L257 711L257 710L256 710L256 709L255 709L255 705L256 705L256 704L257 704L257 703L258 703Z" fill="#1F4262"/><path d="M258 702L262 702L262 703L263 703L263 704L264 704L264 705L265 705L265 709L264 709L264 710L263 710L263 711L262 711L262 712L258 712L258 711L257 711L257 710L256 710L256 709L255 709L255 705L256 705L256 704L257 704L257 703L258 703Z" fill="#214769"/><path d="M852 644L856 644L856 645L857 645L857 646L858 646L858 647L859 647L859 651L858 651L858 652L857 652L857 653L856 653L856 654L852 654L852 653L851 653L851 652L850 652L850 651L849 651L849 647L850 647L850 646L851 646L851 645L852 645Z" fill="#1F4262"/><path d="M991 683L995 683L995 684L996 684L996 685L997 685L997 686L998 686L998 690L997 690L997 691L996 691L996 692L995 692L995 693L991 693L991 692L990 692L990 691L989 691L989 690L988 690L988 686L989 686L989 685L990 685L990 684L991 684Z" fill="#1A3955"/><path d="M244 525L244 526L245 526L245 527L245 527L245 528L246 528L246 529L246 529L246 530L247 530L247 531L247 531L247 532L248 532L248 533L248 533L248 534L249 534L249 535L249 535L249 536L250 536L250 537L237 537L237 536L238 536L238 535L238 535L238 534L239 534L239 533L239 533L239 532L240 532L240 531L240 531L240 530L241 530L241 529L241 529L241 528L242 528L242 527L242 527L242 526L243 526L243 525Z" fill="#29567D"/><path d="M305 525L305 526L306 526L306 527L306 527L306 528L307 528L307 529L307 529L307 530L308 530L308 531L308 531L308 532L309 532L309 533L309 533L309 534L310 534L310 535L310 535L310 536L311 536L311 537L298 537L298 536L299 536L299 535L299 535L299 534L300 534L300 533L300 533L300 532L301 532L301 531L301 531L301 530L302 530L302 529L302 529L302 528L303 528L303 527L303 527L303 526L304 526L304 525Z" fill="#244C6F"/><path d="M305 505L305 506L306 506L306 507L306 507L306 508L307 508L307 509L307 509L307 510L308 510L308 511L308 511L308 512L309 512L309 513L309 513L309 514L310 514L310 515L310 515L310 516L311 516L311 517L298 517L298 516L299 516L299 515L299 515L299 514L300 514L300 513L300 513L300 512L301 512L301 511L301 511L301 510L302 510L302 509L302 509L302 508L303 508L303 507L303 507L303 506L304 506L304 505Z" fill="#265176"/><path d="M837 486L837 487L838 487L838 488L838 488L838 489L839 489L839 490L839 490L839 491L840 491L840 492L840 492L840 493L841 493L841 494L841 494L841 495L842 495L842 496L842 496L842 497L843 497L843 498L830 498L830 497L831 497L831 496L831 496L831 495L832 495L832 494L832 494L832 493L833 493L833 492L833 492L833 491L834 491L834 490L834 490L834 489L835 489L835 488L835 488L835 487L836 487L836 486Z" fill="#29567D"/><path d="M968 544L968 545L969 545L969 546L969 546L969 547L970 547L970 548L970 548L970 549L971 549L971 550L971 550L971 551L972 551L972 552L972 552L972 553L973 553L973 554L973 554L973 555L974 555L974 556L961 556L961 555L962 555L962 554L962 554L962 553L963 553L963 552L963 552L963 551L964 551L964 550L964 550L964 549L965 549L965 548L965 548L965 547L966 547L966 546L966 546L966 545L967 545L967 544Z" fill="#244C6F"/><path d="M188 547L192 547L192 548L193 548L193 549L194 549L194 550L195 550L195 554L194 554L194 555L193 555L193 556L192 556L192 557L188 557L188 556L187 556L187 555L186 555L186 554L185 554L185 550L186 550L186 549L187 549L187 548L188 548Z" fill="#29567D"/><path d="M188 566L192 566L192 567L193 567L193 568L194 568L194 569L195 569L195 573L194 573L194 574L193 574L193 575L192 575L192 576L188 576L188 575L187 575L187 574L186 574L186 573L185 573L185 569L186 569L186 568L187 568L187 567L188 567Z" fill="#29567D"/><path d="M721 508L725 508L725 509L726 509L726 510L727 510L727 511L728 511L728 515L727 515L727 516L726 516L726 517L725 517L725 518L721 518L721 517L720 517L720 516L719 516L719 515L718 515L718 511L719 511L719 510L720 510L720 509L721 509Z" fill="#2E608A"/><path d="M721 547L725 547L725 548L726 548L726 549L727 549L727 550L728 550L728 554L727 554L727 555L726 555L726 556L725 556L725 557L721 557L721 556L720 556L720 555L719 555L719 554L718 554L718 550L719 550L719 549L720 549L720 548L721 548Z" fill="#2B5B83"/><path d="M721 527L725 527L725 528L726 528L726 529L727 529L727 530L728 530L728 534L727 534L727 535L726 535L726 536L725 536L725 537L721 537L721 536L720 536L720 535L719 535L719 534L718 534L718 530L719 530L719 529L720 529L720 528L721 528Z" fill="#2E608A"/><path d="M721 586L725 586L725 587L726 587L726 588L727 588L727 589L728 589L728 593L727 593L727 594L726 594L726 595L725 595L725 596L721 596L721 595L720 595L720 594L719 594L719 593L718 593L718 589L719 589L719 588L720 588L720 587L721 587Z" fill="#29567D"/><path d="M162 527L166 527L166 528L167 528L167 529L168 529L168 530L169 530L169 534L168 534L168 535L167 535L167 536L166 536L166 537L162 537L162 536L161 536L161 535L160 535L160 534L159 534L159 530L160 530L160 529L161 529L161 528L162 528Z" fill="#306591"/><path d="M162 527L166 527L166 528L167 528L167 529L168 529L168 530L169 530L169 534L168 534L168 535L167 535L167 536L166 536L166 537L162 537L162 536L161 536L161 535L160 535L160 534L159 534L159 530L160 530L160 529L161 529L161 528L162 528Z" fill="#2B5B83"/><path d="M188 527L192 527L192 528L193 528L193 529L194 529L194 530L195 530L195 534L194 534L194 535L193 535L193 536L192 536L192 537L188 537L188 536L187 536L187 535L186 535L186 534L185 534L185 530L186 530L186 529L187 529L187 528L188 528Z" fill="#2B5B83"/><path d="M188 527L192 527L192 528L193 528L193 529L194 529L194 530L195 530L195 534L194 534L194 535L193 535L193 536L192 536L192 537L188 537L188 536L187 536L187 535L186 535L186 534L185 534L185 530L186 530L186 529L187 529L187 528L188 528Z" fill="#2B5B83"/><path d="M721 547L725 547L725 548L726 548L726 549L727 549L727 550L728 550L728 554L727 554L727 555L726 555L726 556L725 556L725 557L721 557L721 556L720 556L720 555L719 555L719 554L718 554L718 550L719 550L719 549L720 549L720 548L721 548Z" fill="#2E608A"/><path d="M721 508L725 508L725 509L726 509L726 510L727 510L727 511L728 511L728 515L727 515L727 516L726 516L726 517L725 517L725 518L721 518L721 517L720 517L720 516L719 516L719 515L718 515L718 511L719 511L719 510L720 510L720 509L721 509Z" fill="#2E608A"/><path d="M721 547L725 547L725 548L726 548L726 549L727 549L727 550L728 550L728 554L727 554L727 555L726 555L726 556L725 556L725 557L721 557L721 556L720 556L720 555L719 555L719 554L718 554L718 550L719 550L719 549L720 549L720 548L721 548Z" fill="#2B5B83"/><path d="M721 508L725 508L725 509L726 509L726 510L727 510L727 511L728 511L728 515L727 515L727 516L726 516L726 517L725 517L725 518L721 518L721 517L720 517L720 516L719 516L719 515L718 515L718 511L719 511L719 510L720 510L720 509L721 509Z" fill="#2E608A"/><path d="M206 644L210 644L210 645L211 645L211 646L212 646L212 647L213 647L213 651L212 651L212 652L211 652L211 653L210 653L210 654L206 654L206 653L205 653L205 652L204 652L204 651L203 651L203 647L204 647L204 646L205 646L205 645L206 645Z" fill="#214769"/><path d="M206 644L210 644L210 645L211 645L211 646L212 646L212 647L213 647L213 651L212 651L212 652L211 652L211 653L210 653L210 654L206 654L206 653L205 653L205 652L204 652L204 651L203 651L203 647L204 647L204 646L205 646L205 645L206 645Z" fill="#244C6F"/><path d="M267 663L271 663L271 664L272 664L272 665L273 665L273 666L274 666L274 670L273 670L273 671L272 671L272 672L271 672L271 673L267 673L267 672L266 672L266 671L265 671L265 670L264 670L264 666L265 666L265 665L266 665L266 664L267 664Z" fill="#214769"/><path d="M267 702L271 702L271 703L272 703L272 704L273 704L273 705L274 705L274 709L273 709L273 710L272 710L272 711L271 711L271 712L267 712L267 711L266 711L266 710L265 710L265 709L264 709L264 705L265 705L265 704L266 704L266 703L267 703Z" fill="#214769"/><path d="M852 644L856 644L856 645L857 645L857 646L858 646L858 647L859 647L859 651L858 651L858 652L857 652L857 653L856 653L856 654L852 654L852 653L851 653L851 652L850 652L850 651L849 651L849 647L850 647L850 646L851 646L851 645L852 645Z" fill="#244C6F"/><path d="M913 702L917 702L917 703L918 703L918 704L919 704L919 705L920 705L920 709L919 709L919 710L918 710L918 711L917 711L917 712L913 712L913 711L912 711L912 710L911 710L911 709L910 709L910 705L911 705L911 704L912 704L912 703L913 703Z" fill="#1F4262"/><path d="M165 467L165 468L166 468L166 469L166 469L166 470L167 470L167 471L167 471L167 472L168 472L168 473L169 473L169 474L169 474L169 475L170 475L170 476L170 476L170 477L171 477L171 478L158 478L158 477L159 477L159 476L159 476L159 475L160 475L160 474L160 474L160 473L161 473L161 472L162 472L162 471L162 471L162 470L163 470L163 469L163 469L163 468L164 468L164 467Z" fill="#306591"/><path d="M165 505L165 506L166 506L166 507L166 507L166 508L167 508L167 509L167 509L167 510L168 510L168 511L168 511L168 512L169 512L169 513L169 513L169 514L170 514L170 515L170 515L170 516L171 516L171 517L158 517L158 516L159 516L159 515L159 515L159 514L160 514L160 513L160 513L160 512L161 512L161 511L161 511L161 510L162 510L162 509L162 509L162 508L163 508L163 507L163 507L163 506L164 506L164 505Z" fill="#306591"/><path d="M715 428L715 429L716 429L716 430L716 430L716 431L717 431L717 432L717 432L717 433L718 433L718 434L719 434L719 435L719 435L719 436L720 436L720 437L720 437L720 438L721 438L721 439L708 439L708 438L709 438L709 437L709 437L709 436L710 436L710 435L710 435L710 434L711 434L711 433L712 433L712 432L712 432L712 431L713 431L713 430L713 430L713 429L714 429L714 428Z" fill="#306591"/><path d="M715 428L715 429L716 429L716 430L716 430L716 431L717 431L717 432L717 432L717 433L718 433L718 434L719 434L719 435L719 435L719 436L720 436L720 437L720 437L720 438L721 438L721 439L708 439L708 438L709 438L709 437L709 437L709 436L710 436L710 435L710 435L710 434L711 434L711 433L712 433L712 432L712 432L712 431L713 431L713 430L713 430L713 429L714 429L714 428Z" fill="#306591"/><path d="M235 525L235 526L236 526L236 527L236 527L236 528L237 528L237 529L237 529L237 530L238 530L238 531L238 531L238 532L239 532L239 533L239 533L239 534L240 534L240 535L240 535L240 536L241 536L241 537L228 537L228 536L229 536L229 535L229 535L229 534L230 534L230 533L230 533L230 532L231 532L231 531L231 531L231 530L232 530L232 529L232 529L232 528L233 528L233 527L233 527L233 526L234 526L234 525Z" fill="#29567D"/><path d="M235 525L235 526L236 526L236 527L236 527L236 528L237 528L237 529L237 529L237 530L238 530L238 531L238 531L238 532L239 532L239 533L239 533L239 534L240 534L240 535L240 535L240 536L241 536L241 537L228 537L228 536L229 536L229 535L229 535L229 534L230 534L230 533L230 533L230 532L231 532L231 531L231 531L231 530L232 530L232 529L232 529L232 528L233 528L233 527L233 527L233 526L234 526L234 525Z" fill="#29567D"/><path d="M811 486L811 487L812 487L812 488L812 488L812 489L813 489L813 490L813 490L813 491L814 491L814 492L814 492L814 493L815 493L815 494L815 494L815 495L816 495L816 496L816 496L816 497L817 497L817 498L804 498L804 497L805 497L805 496L805 496L805 495L806 495L806 494L806 494L806 493L807 493L807 492L807 492L807 491L808 491L808 490L808 490L808 489L809 489L809 488L809 488L809 487L810 487L810 486Z" fill="#2B5B83"/><path d="M165 505L165 506L166 506L166 507L166 507L166 508L167 508L167 509L167 509L167 510L168 510L168 511L168 511L168 512L169 512L169 513L169 513L169 514L170 514L170 515L170 515L170 516L171 516L171 517L158 517L158 516L159 516L159 515L159 515L159 514L160 514L160 513L160 513L160 512L161 512L161 511L161 511L161 510L162 510L162 509L162 509L162 508L163 508L163 507L163 507L163 506L164 506L164 505Z" fill="#306591"/><path d="M165 467L165 468L166 468L166 469L166 469L166 470L167 470L167 471L167 471L167 472L168 472L168 473L169 473L169 474L169 474L169 475L170 475L170 476L170 476L170 477L171 477L171 478L158 478L158 477L159 477L159 476L159 476L159 475L160 475L160 474L160 474L160 473L161 473L161 472L162 472L162 471L162 471L162 470L163 470L163 469L163 469L163 468L164 468L164 467Z" fill="#306591"/><path d="M715 428L715 429L716 429L716 430L716 430L716 431L717 431L717 432L717 432L717 433L718 433L718 434L719 434L719 435L719 435L719 436L720 436L720 437L720 437L720 438L721 438L721 439L708 439L708 438L709 438L709 437L709 437L709 436L710 436L710 435L710 435L710 434L711 434L711 433L712 433L712 432L712 432L712 431L713 431L713 430L713 430L713 429L714 429L714 428Z" fill="#306591"/><path d="M715 428L715 429L716 429L716 430L716 430L716 431L717 431L717 432L717 432L717 433L718 433L718 434L719 434L719 435L719 435L719 436L720 436L720 437L720 437L720 438L721 438L721 439L708 439L708 438L709 438L709 437L709 437L709 436L710 436L710 435L710 435L710 434L711 434L711 433L712 433L712 432L712 432L712 431L713 431L713 430L713 430L713 429L714 429L714 428Z" fill="#336A98"/><path d="M235 525L235 526L236 526L236 527L236 527L236 528L237 528L237 529L237 529L237 530L238 530L238 531L238 531L238 532L239 532L239 533L239 533L239 534L240 534L240 535L240 535L240 536L241 536L241 537L228 537L228 536L229 536L229 535L229 535L229 534L230 534L230 533L230 533L230 532L231 532L231 531L231 531L231 530L232 530L232 529L232 529L232 528L233 528L233 527L233 527L233 526L234 526L234 525Z" fill="#29567D"/><path d="M235 525L235 526L236 526L236 527L236 527L236 528L237 528L237 529L237 529L237 530L238 530L238 531L238 531L238 532L239 532L239 533L239 533L239 534L240 534L240 535L240 535L240 536L241 536L241 537L228 537L228 536L229 536L229 535L229 535L229 534L230 534L230 533L230 533L230 532L231 532L231 531L231 531L231 530L232 530L232 529L232 529L232 528L233 528L233 527L233 527L233 526L234 526L234 525Z" fill="#29567D"/><path d="M794 505L794 506L795 506L795 507L795 507L795 508L796 508L796 509L796 509L796 510L797 510L797 511L797 511L797 512L798 512L798 513L798 513L798 514L799 514L799 515L799 515L799 516L800 516L800 517L787 517L787 516L788 516L788 515L788 515L788 514L789 514L789 513L789 513L789 512L790 512L790 511L790 511L790 510L791 510L791 509L791 509L791 508L792 508L792 507L792 507L792 506L793 506L793 505Z" fill="#29567D"/><path d="M130 447L130 448L131 448L131 449L131 449L131 450L132 450L132 451L132 451L132 452L133 452L133 453L133 453L133 454L134 454L134 455L134 455L134 456L135 456L135 457L135 457L135 458L136 458L136 459L123 459L123 458L124 458L124 457L124 457L124 456L125 456L125 455L125 455L125 454L126 454L126 453L126 453L126 452L127 452L127 451L127 451L127 450L128 450L128 449L128 449L128 448L129 448L129 447Z" fill="#3875A6"/><path d="M130 389L130 390L131 390L131 391L131 391L131 392L132 392L132 393L132 393L132 394L133 394L133 395L134 395L134 396L134 396L134 397L135 397L135 398L135 398L135 399L136 399L136 400L123 400L123 399L124 399L124 398L124 398L124 397L125 397L125 396L125 396L125 395L126 395L126 394L127 394L127 393L127 393L127 392L128 392L128 391L128 391L128 390L129 390L129 389Z" fill="#3875A6"/><path d="M130 350L130 351L131 351L131 352L131 352L131 353L132 353L132 354L132 354L132 355L133 355L133 356L134 356L134 357L134 357L134 358L135 358L135 359L135 359L135 360L136 360L136 361L123 361L123 360L124 360L124 359L124 359L124 358L125 358L125 357L125 357L125 356L126 356L126 355L127 355L127 354L127 354L127 353L128 353L128 352L128 352L128 351L129 351L129 350Z" fill="#3D7FB4"/><path d="M663 311L663 312L664 312L664 313L664 313L664 314L665 314L665 315L665 315L665 316L666 316L666 317L666 317L666 318L667 318L667 319L667 319L667 320L668 320L668 321L668 321L668 322L669 322L669 323L656 323L656 322L657 322L657 321L657 321L657 320L658 320L658 319L658 319L658 318L659 318L659 317L659 317L659 316L660 316L660 315L660 315L660 314L661 314L661 313L661 313L661 312L662 312L662 311Z" fill="#438AC3"/><path d="M663 350L663 351L664 351L664 352L664 352L664 353L665 353L665 354L665 354L665 355L666 355L666 356L667 356L667 357L667 357L667 358L668 358L668 359L668 359L668 360L669 360L669 361L656 361L656 360L657 360L657 359L657 359L657 358L658 358L658 357L658 357L658 356L659 356L659 355L660 355L660 354L660 354L660 353L661 353L661 352L661 352L661 351L662 351L662 350Z" fill="#3D7FB4"/><path d="M380 741L384 741L384 742L385 742L385 743L386 743L386 744L387 744L387 748L386 748L386 749L385 749L385 750L384 750L384 751L380 751L380 750L379 750L379 749L378 749L378 748L377 748L377 744L378 744L378 743L379 743L379 742L380 742Z" fill="#18344F"/><path d="M1000 683L1004 683L1004 684L1005 684L1005 685L1006 685L1006 686L1007 686L1007 690L1006 690L1006 691L1005 691L1005 692L1004 692L1004 693L1000 693L1000 692L999 692L999 691L998 691L998 690L997 690L997 686L998 686L998 685L999 685L999 684L1000 684Z" fill="#1C3D5C"/><path d="M206 644L210 644L210 645L211 645L211 646L212 646L212 647L213 647L213 651L212 651L212 652L211 652L211 653L210 653L210 654L206 654L206 653L205 653L205 652L204 652L204 651L203 651L203 647L204 647L204 646L205 646L205 645L206 645Z" fill="#214769"/><path d="M206 644L210 644L210 645L211 645L211 646L212 646L212 647L213 647L213 651L212 651L212 652L211 652L211 653L210 653L210 654L206 654L206 653L205 653L205 652L204 652L204 651L203 651L203 647L204 647L204 646L205 646L205 645L206 645Z" fill="#244C6F"/><path d="M738 605L742 605L742 606L743 606L743 607L744 607L744 608L745 608L745 612L744 612L744 613L743 613L743 614L742 614L742 615L738 615L738 614L737 614L737 613L736 613L736 612L735 612L735 608L736 608L736 607L737 607L737 606L738 606Z" fill="#265176"/><path d="M267 702L271 702L271 703L272 703L272 704L273 704L273 705L274 705L274 709L273 709L273 710L272 710L272 711L271 711L271 712L267 712L267 711L266 711L266 710L265 710L265 709L264 709L264 705L265 705L265 704L266 704L266 703L267 703Z" fill="#214769"/><path d="M267 663L271 663L271 664L272 664L272 665L273 665L273 666L274 666L274 670L273 670L273 671L272 671L272 672L271 672L271 673L267 673L267 672L266 672L266 671L265 671L265 670L264 670L264 666L265 666L265 665L266 665L266 664L267 664Z" fill="#214769"/><path d="M852 683L856 683L856 684L857 684L857 685L858 685L858 686L859 686L859 690L858 690L858 691L857 691L857 692L856 692L856 693L852 693L852 692L851 692L851 691L850 691L850 690L849 690L849 686L850 686L850 685L851 685L851 684L852 684Z" fill="#214769"/><path d="M852 644L856 644L856 645L857 645L857 646L858 646L858 647L859 647L859 651L858 651L858 652L857 652L857 653L856 653L856 654L852 654L852 653L851 653L851 652L850 652L850 651L849 651L849 647L850 647L850 646L851 646L851 645L852 645Z" fill="#244C6F"/><path d="M148 467L148 468L149 468L149 469L149 469L149 470L150 470L150 471L150 471L150 472L151 472L151 473L152 473L152 474L152 474L152 475L153 475L153 476L153 476L153 477L154 477L154 478L141 478L141 477L142 477L142 476L142 476L142 475L143 475L143 474L143 474L143 473L144 473L144 472L145 472L145 471L145 471L145 470L146 470L146 469L146 469L146 468L147 468L147 467Z" fill="#306591"/><path d="M148 525L148 526L149 526L149 527L149 527L149 528L150 528L150 529L150 529L150 530L151 530L151 531L151 531L151 532L152 532L152 533L152 533L152 534L153 534L153 535L153 535L153 536L154 536L154 537L141 537L141 536L142 536L142 535L142 535L142 534L143 534L143 533L143 533L143 532L144 532L144 531L144 531L144 530L145 530L145 529L145 529L145 528L146 528L146 527L146 527L146 526L147 526L147 525Z" fill="#2B5B83"/><path d="M680 467L680 468L681 468L681 469L681 469L681 470L682 470L682 471L682 471L682 472L683 472L683 473L684 473L684 474L684 474L684 475L685 475L685 476L685 476L685 477L686 477L686 478L673 478L673 477L674 477L674 476L674 476L674 475L675 475L675 474L675 474L675 473L676 473L676 472L677 472L677 471L677 471L677 470L678 470L678 469L678 469L678 468L679 468L679 467Z" fill="#306591"/><path d="M680 467L680 468L681 468L681 469L681 469L681 470L682 470L682 471L682 471L682 472L683 472L683 473L684 473L684 474L684 474L684 475L685 475L685 476L685 476L685 477L686 477L686 478L673 478L673 477L674 477L674 476L674 476L674 475L675 475L675 474L675 474L675 473L676 473L676 472L677 472L677 471L677 471L677 470L678 470L678 469L678 469L678 468L679 468L679 467Z" fill="#336A98"/><path d="M217 564L217 565L218 565L218 566L218 566L218 567L219 567L219 568L219 568L219 569L220 569L220 570L220 570L220 571L221 571L221 572L221 572L221 573L222 573L222 574L222 574L222 575L223 575L223 576L210 576L210 575L211 575L211 574L211 574L211 573L212 573L212 572L212 572L212 571L213 571L213 570L213 570L213 569L214 569L214 568L214 568L214 567L215 567L215 566L215 566L215 565L216 565L216 564Z" fill="#265176"/><path d="M139 175L139 176L140 176L140 177L140 177L140 178L141 178L141 179L141 179L141 180L142 180L142 181L143 181L143 182L143 182L143 183L144 183L144 184L144 184L144 185L145 185L145 186L132 186L132 185L133 185L133 184L133 184L133 183L134 183L134 182L134 182L134 181L135 181L135 180L136 180L136 179L136 179L136 178L137 178L137 177L137 177L137 176L138 176L138 175Z" fill="#50A6E8"/><path d="M148 467L148 468L149 468L149 469L149 469L149 470L150 470L150 471L150 471L150 472L151 472L151 473L152 473L152 474L152 474L152 475L153 475L153 476L153 476L153 477L154 477L154 478L141 478L141 477L142 477L142 476L142 476L142 475L143 475L143 474L143 474L143 473L144 473L144 472L145 472L145 471L145 471L145 470L146 470L146 469L146 469L146 468L147 468L147 467Z" fill="#306591"/><path d="M148 525L148 526L149 526L149 527L149 527L149 528L150 528L150 529L150 529L150 530L151 530L151 531L151 531L151 532L152 532L152 533L152 533L152 534L153 534L153 535L153 535L153 536L154 536L154 537L141 537L141 536L142 536L142 535L142 535L142 534L143 534L143 533L143 533L143 532L144 532L144 531L144 531L144 530L145 530L145 529L145 529L145 528L146 528L146 527L146 527L146 526L147 526L147 525Z" fill="#2B5B83"/><path d="M680 467L680 468L681 468L681 469L681 469L681 470L682 470L682 471L682 471L682 472L683 472L683 473L684 473L684 474L684 474L684 475L685 475L685 476L685 476L685 477L686 477L686 478L673 478L673 477L674 477L674 476L674 476L674 475L675 475L675 474L675 474L675 473L676 473L676 472L677 472L677 471L677 471L677 470L678 470L678 469L678 469L678 468L679 468L679 467Z" fill="#336A98"/><path d="M680 467L680 468L681 468L681 469L681 469L681 470L682 470L682 471L682 471L682 472L683 472L683 473L684 473L684 474L684 474L684 475L685 475L685 476L685 476L685 477L686 477L686 478L673 478L673 477L674 477L674 476L674 476L674 475L675 475L675 474L675 474L675 473L676 473L676 472L677 472L677 471L677 471L677 470L678 470L678 469L678 469L678 468L679 468L679 467Z" fill="#306591"/><path d="M724 467L724 468L725 468L725 469L725 469L725 470L726 470L726 471L726 471L726 472L727 472L727 473L728 473L728 474L728 474L728 475L729 475L729 476L729 476L729 477L730 477L730 478L717 478L717 477L718 477L718 476L718 476L718 475L719 475L719 474L719 474L719 473L720 473L720 472L721 472L721 471L721 471L721 470L722 470L722 469L722 469L722 468L723 468L723 467Z" fill="#306591"/><path d="M724 467L724 468L725 468L725 469L725 469L725 470L726 470L726 471L726 471L726 472L727 472L727 473L728 473L728 474L728 474L728 475L729 475L729 476L729 476L729 477L730 477L730 478L717 478L717 477L718 477L718 476L718 476L718 475L719 475L719 474L719 474L719 473L720 473L720 472L721 472L721 471L721 471L721 470L722 470L722 469L722 469L722 468L723 468L723 467Z" fill="#306591"/><path d="M217 583L217 584L218 584L218 585L218 585L218 586L219 586L219 587L219 587L219 588L220 588L220 589L220 589L220 590L221 590L221 591L221 591L221 592L222 592L222 593L222 593L222 594L223 594L223 595L210 595L210 594L211 594L211 593L211 593L211 592L212 592L212 591L212 591L212 590L213 590L213 589L213 589L213 588L214 588L214 587L214 587L214 586L215 586L215 585L215 585L215 584L216 584L216 583Z" fill="#244C6F"/><path d="M217 564L217 565L218 565L218 566L218 566L218 567L219 567L219 568L219 568L219 569L220 569L220 570L220 570L220 571L221 571L221 572L221 572L221 573L222 573L222 574L222 574L222 575L223 575L223 576L210 576L210 575L211 575L211 574L211 574L211 573L212 573L212 572L212 572L212 571L213 571L213 570L213 570L213 569L214 569L214 568L214 568L214 567L215 567L215 566L215 566L215 565L216 565L216 564Z" fill="#265176"/><path d="M139 175L139 176L140 176L140 177L140 177L140 178L141 178L141 179L141 179L141 180L142 180L142 181L143 181L143 182L143 182L143 183L144 183L144 184L144 184L144 185L145 185L145 186L132 186L132 185L133 185L133 184L133 184L133 183L134 183L134 182L134 182L134 181L135 181L135 180L136 180L136 179L136 179L136 178L137 178L137 177L137 177L137 176L138 176L138 175Z" fill="#56B1F7"/><path d="M139 233L139 234L140 234L140 235L140 235L140 236L141 236L141 237L141 237L141 238L142 238L142 239L142 239L142 240L143 240L143 241L143 241L143 242L144 242L144 243L144 243L144 244L145 244L145 245L132 245L132 244L133 244L133 243L133 243L133 242L134 242L134 241L134 241L134 240L135 240L135 239L135 239L135 238L136 238L136 237L136 237L136 236L137 236L137 235L137 235L137 234L138 234L138 233Z" fill="#458FCA"/><path d="M148 467L148 468L149 468L149 469L149 469L149 470L150 470L150 471L150 471L150 472L151 472L151 473L152 473L152 474L152 474L152 475L153 475L153 476L153 476L153 477L154 477L154 478L141 478L141 477L142 477L142 476L142 476L142 475L143 475L143 474L143 474L143 473L144 473L144 472L145 472L145 471L145 471L145 470L146 470L146 469L146 469L146 468L147 468L147 467Z" fill="#306591"/><path d="M148 525L148 526L149 526L149 527L149 527L149 528L150 528L150 529L150 529L150 530L151 530L151 531L151 531L151 532L152 532L152 533L152 533L152 534L153 534L153 535L153 535L153 536L154 536L154 537L141 537L141 536L142 536L142 535L142 535L142 534L143 534L143 533L143 533L143 532L144 532L144 531L144 531L144 530L145 530L145 529L145 529L145 528L146 528L146 527L146 527L146 526L147 526L147 525Z" fill="#2B5B83"/><path d="M724 486L724 487L725 487L725 488L725 488L725 489L726 489L726 490L726 490L726 491L727 491L727 492L727 492L727 493L728 493L728 494L728 494L728 495L729 495L729 496L729 496L729 497L730 497L730 498L717 498L717 497L718 497L718 496L718 496L718 495L719 495L719 494L719 494L719 493L720 493L720 492L720 492L720 491L721 491L721 490L721 490L721 489L722 489L722 488L722 488L722 487L723 487L723 486Z" fill="#2E608A"/><path d="M724 467L724 468L725 468L725 469L725 469L725 470L726 470L726 471L726 471L726 472L727 472L727 473L728 473L728 474L728 474L728 475L729 475L729 476L729 476L729 477L730 477L730 478L717 478L717 477L718 477L718 476L718 476L718 475L719 475L719 474L719 474L719 473L720 473L720 472L721 472L721 471L721 471L721 470L722 470L722 469L722 469L722 468L723 468L723 467Z" fill="#2E608A"/><path d="M130 467L130 468L131 468L131 469L131 469L131 470L132 470L132 471L132 471L132 472L133 472L133 473L134 473L134 474L134 474L134 475L135 475L135 476L135 476L135 477L136 477L136 478L123 478L123 477L124 477L124 476L124 476L124 475L125 475L125 474L125 474L125 473L126 473L126 472L127 472L127 471L127 471L127 470L128 470L128 469L128 469L128 468L129 468L129 467Z" fill="#306591"/><path d="M130 467L130 468L131 468L131 469L131 469L131 470L132 470L132 471L132 471L132 472L133 472L133 473L134 473L134 474L134 474L134 475L135 475L135 476L135 476L135 477L136 477L136 478L123 478L123 477L124 477L124 476L124 476L124 475L125 475L125 474L125 474L125 473L126 473L126 472L127 472L127 471L127 471L127 470L128 470L128 469L128 469L128 468L129 468L129 467Z" fill="#29567D"/><path d="M680 486L680 487L681 487L681 488L681 488L681 489L682 489L682 490L682 490L682 491L683 491L683 492L683 492L683 493L684 493L684 494L684 494L684 495L685 495L685 496L685 496L685 497L686 497L686 498L673 498L673 497L674 497L674 496L674 496L674 495L675 495L675 494L675 494L675 493L676 493L676 492L676 492L676 491L677 491L677 490L677 490L677 489L678 489L678 488L678 488L678 487L679 487L679 486Z" fill="#2B5B83"/><path d="M680 467L680 468L681 468L681 469L681 469L681 470L682 470L682 471L682 471L682 472L683 472L683 473L684 473L684 474L684 474L684 475L685 475L685 476L685 476L685 477L686 477L686 478L673 478L673 477L674 477L674 476L674 476L674 475L675 475L675 474L675 474L675 473L676 473L676 472L677 472L677 471L677 471L677 470L678 470L678 469L678 469L678 468L679 468L679 467Z" fill="#306591"/><path d="M217 525L217 526L218 526L218 527L218 527L218 528L219 528L219 529L219 529L219 530L220 530L220 531L220 531L220 532L221 532L221 533L221 533L221 534L222 534L222 535L222 535L222 536L223 536L223 537L210 537L210 536L211 536L211 535L211 535L211 534L212 534L212 533L212 533L212 532L213 532L213 531L213 531L213 530L214 530L214 529L214 529L214 528L215 528L215 527L215 527L215 526L216 526L216 525Z" fill="#244C6F"/><path d="M217 525L217 526L218 526L218 527L218 527L218 528L219 528L219 529L219 529L219 530L220 530L220 531L220 531L220 532L221 532L221 533L221 533L221 534L222 534L222 535L222 535L222 536L223 536L223 537L210 537L210 536L211 536L211 535L211 535L211 534L212 534L212 533L212 533L212 532L213 532L213 531L213 531L213 530L214 530L214 529L214 529L214 528L215 528L215 527L215 527L215 526L216 526L216 525Z" fill="#29567D"/><path d="M820 525L820 526L821 526L821 527L821 527L821 528L822 528L822 529L822 529L822 530L823 530L823 531L823 531L823 532L824 532L824 533L824 533L824 534L825 534L825 535L825 535L825 536L826 536L826 537L813 537L813 536L814 536L814 535L814 535L814 534L815 534L815 533L815 533L815 532L816 532L816 531L816 531L816 530L817 530L817 529L817 529L817 528L818 528L818 527L818 527L818 526L819 526L819 525Z" fill="#265176"/></g>
<g shape-rendering="crispEdges"><rect x="89" y="104" width="518" height="1" fill="#333333"/><rect x="89" y="104" width="1" height="733" fill="#333333"/><rect x="605" y="104" width="2" height="733" fill="#333333"/><rect x="89" y="150" width="518" height="2" fill="#333333"/><rect x="89" y="835" width="518" height="2" fill="#333333"/><rect x="146" y="837" width="2" height="6" fill="#333333"/><rect x="233" y="837" width="2" height="6" fill="#333333"/><rect x="320" y="837" width="2" height="6" fill="#333333"/><rect x="407" y="837" width="2" height="6" fill="#333333"/><rect x="495" y="837" width="2" height="6" fill="#333333"/><rect x="582" y="837" width="2" height="6" fill="#333333"/><rect x="621" y="104" width="518" height="1" fill="#333333"/><rect x="621" y="104" width="1" height="733" fill="#333333"/><rect x="1137" y="104" width="2" height="733" fill="#333333"/><rect x="621" y="150" width="518" height="2" fill="#333333"/><rect x="621" y="835" width="518" height="2" fill="#333333"/><rect x="678" y="837" width="2" height="6" fill="#333333"/><rect x="765" y="837" width="2" height="6" fill="#333333"/><rect x="852" y="837" width="2" height="6" fill="#333333"/><rect x="940" y="837" width="2" height="6" fill="#333333"/><rect x="1027" y="837" width="2" height="6" fill="#333333"/><rect x="1114" y="837" width="2" height="6" fill="#333333"/><rect x="81" y="259" width="8" height="2" fill="#333333"/><rect x="81" y="453" width="8" height="2" fill="#333333"/><rect x="81" y="648" width="8" height="2" fill="#333333"/></g>
<g><text x="88.48" y="41.00" font-size="35.6" fill="#FF0000" textLength="216.19" lengthAdjust="spacingAndGlyphs">Fuel efficiency</text><text x="88.61" y="84.60" font-size="30.2" fill="#FF0000" textLength="561.40" lengthAdjust="spacingAndGlyphs">Described for 234 cars from 1999 and 2008</text><text x="321.31" y="138.00" font-size="23.47" fill="#1A1A1A" textLength="52.30" lengthAdjust="spacingAndGlyphs">1999</text><text x="853.93" y="138.00" font-size="23.47" fill="#1A1A1A" textLength="51.57" lengthAdjust="spacingAndGlyphs">2008</text><text x="49.01" y="269.80" font-size="23.47" fill="#4D4D4D" textLength="26.11" lengthAdjust="spacingAndGlyphs">40</text><text x="49.01" y="463.80" font-size="23.47" fill="#4D4D4D" textLength="26.11" lengthAdjust="spacingAndGlyphs">30</text><text x="49.01" y="658.80" font-size="23.47" fill="#4D4D4D" textLength="26.11" lengthAdjust="spacingAndGlyphs">20</text><text x="139.87" y="867.70" font-size="23.47" fill="#4D4D4D" textLength="13.05" lengthAdjust="spacingAndGlyphs">2</text><text x="226.94" y="867.70" font-size="23.47" fill="#4D4D4D" textLength="13.05" lengthAdjust="spacingAndGlyphs">3</text><text x="313.95" y="867.70" font-size="23.47" fill="#4D4D4D" textLength="13.05" lengthAdjust="spacingAndGlyphs">4</text><text x="400.90" y="867.70" font-size="23.47" fill="#4D4D4D" textLength="13.05" lengthAdjust="spacingAndGlyphs">5</text><text x="488.79" y="867.70" font-size="23.47" fill="#4D4D4D" textLength="13.05" lengthAdjust="spacingAndGlyphs">6</text><text x="575.86" y="867.70" font-size="23.47" fill="#4D4D4D" textLength="13.05" lengthAdjust="spacingAndGlyphs">7</text><text x="671.87" y="867.70" font-size="23.47" fill="#4D4D4D" textLength="13.05" lengthAdjust="spacingAndGlyphs">2</text><text x="758.94" y="867.70" font-size="23.47" fill="#4D4D4D" textLength="13.05" lengthAdjust="spacingAndGlyphs">3</text><text x="845.95" y="867.70" font-size="23.47" fill="#4D4D4D" textLength="13.05" lengthAdjust="spacingAndGlyphs">4</text><text x="933.90" y="867.70" font-size="23.47" fill="#4D4D4D" textLength="13.05" lengthAdjust="spacingAndGlyphs">5</text><text x="1020.79" y="867.70" font-size="23.47" fill="#4D4D4D" textLength="13.05" lengthAdjust="spacingAndGlyphs">6</text><text x="1107.86" y="867.70" font-size="23.47" fill="#4D4D4D" textLength="13.05" lengthAdjust="spacingAndGlyphs">7</text><text x="475.60" y="901.80" font-size="30.2" fill="#FF0000" textLength="276.41" lengthAdjust="spacingAndGlyphs">Engine Displacement</text><text x="670.48" y="940.80" font-size="23.47" fill="#FF0000" textLength="467.17" lengthAdjust="spacingAndGlyphs">Source: U.S. Environmental Protection Agency</text><g transform="translate(37.0 0) rotate(-90)"><text x="-653.11" y="0.00" font-size="30.2" fill="#FF0000" textLength="320.28" lengthAdjust="spacingAndGlyphs">Highway miles per gallon</text></g><text x="1181.30" y="198.60" font-size="30.2" fill="#FF0000" textLength="127.86" lengthAdjust="spacingAndGlyphs">City miles</text><text x="1182.02" y="234.60" font-size="30.2" fill="#FF0000" textLength="128.18" lengthAdjust="spacingAndGlyphs">per gallon</text><text x="1181.36" y="624.40" font-size="30.2" fill="#FF0000" textLength="132.52" lengthAdjust="spacingAndGlyphs">Drive train</text></g>
<defs><linearGradient id="cb" x1="0" y1="0" x2="0" y2="1"><stop offset="0.0000" stop-color="#56B1F7"/><stop offset="0.0250" stop-color="#54ADF2"/><stop offset="0.0500" stop-color="#52AAED"/><stop offset="0.0750" stop-color="#51A6E8"/><stop offset="0.1000" stop-color="#4FA2E3"/><stop offset="0.1250" stop-color="#4D9FDE"/><stop offset="0.1500" stop-color="#4B9BDA"/><stop offset="0.1750" stop-color="#4997D5"/><stop offset="0.2000" stop-color="#4894D0"/><stop offset="0.2250" stop-color="#4690CB"/><stop offset="0.2500" stop-color="#448DC6"/><stop offset="0.2750" stop-color="#4289C2"/><stop offset="0.3000" stop-color="#4186BD"/><stop offset="0.3250" stop-color="#3F82B8"/><stop offset="0.3500" stop-color="#3D7FB4"/><stop offset="0.3750" stop-color="#3B7BAF"/><stop offset="0.4000" stop-color="#3A78AA"/><stop offset="0.4250" stop-color="#3874A6"/><stop offset="0.4500" stop-color="#3671A1"/><stop offset="0.4750" stop-color="#346E9C"/><stop offset="0.5000" stop-color="#336A98"/><stop offset="0.5250" stop-color="#316793"/><stop offset="0.5500" stop-color="#2F638F"/><stop offset="0.5750" stop-color="#2E608A"/><stop offset="0.6000" stop-color="#2C5D86"/><stop offset="0.6250" stop-color="#2A5A82"/><stop offset="0.6500" stop-color="#29567D"/><stop offset="0.6750" stop-color="#275379"/><stop offset="0.7000" stop-color="#265075"/><stop offset="0.7250" stop-color="#244D70"/><stop offset="0.7500" stop-color="#22496C"/><stop offset="0.7750" stop-color="#214668"/><stop offset="0.8000" stop-color="#1F4364"/><stop offset="0.8250" stop-color="#1E405F"/><stop offset="0.8500" stop-color="#1C3D5B"/><stop offset="0.8750" stop-color="#1B3A57"/><stop offset="0.9000" stop-color="#193753"/><stop offset="0.9250" stop-color="#18344F"/><stop offset="0.9500" stop-color="#16314B"/><stop offset="0.9750" stop-color="#142E47"/><stop offset="1.0000" stop-color="#132B43"/></linearGradient></defs>
<rect x="1183" y="252" width="58" height="288" fill="url(#cb)"/>
<g shape-rendering="crispEdges"><rect x="1183" y="252" width="11" height="1" fill="#FFFFFF"/><rect x="1228" y="252" width="12" height="1" fill="#FFFFFF"/><rect x="1183" y="307" width="11" height="1" fill="#FFFFFF"/><rect x="1228" y="307" width="12" height="1" fill="#FFFFFF"/><rect x="1183" y="362" width="11" height="1" fill="#FFFFFF"/><rect x="1228" y="362" width="12" height="1" fill="#FFFFFF"/><rect x="1183" y="417" width="11" height="1" fill="#FFFFFF"/><rect x="1228" y="417" width="12" height="1" fill="#FFFFFF"/><rect x="1183" y="473" width="11" height="1" fill="#FFFFFF"/><rect x="1228" y="473" width="12" height="1" fill="#FFFFFF"/><rect x="1183" y="528" width="11" height="1" fill="#FFFFFF"/><rect x="1228" y="528" width="12" height="1" fill="#FFFFFF"/></g>
<g><text x="1253.81" y="262.10" font-size="23.47" fill="#0000FF" textLength="26.11" lengthAdjust="spacingAndGlyphs">35</text><text x="1253.81" y="317.40" font-size="23.47" fill="#0000FF" textLength="26.11" lengthAdjust="spacingAndGlyphs">30</text><text x="1253.52" y="372.70" font-size="23.47" fill="#0000FF" textLength="26.11" lengthAdjust="spacingAndGlyphs">25</text><text x="1253.52" y="428.00" font-size="23.47" fill="#0000FF" textLength="26.11" lengthAdjust="spacingAndGlyphs">20</text><text x="1252.91" y="483.30" font-size="23.47" fill="#0000FF" textLength="26.11" lengthAdjust="spacingAndGlyphs">15</text><text x="1252.91" y="538.60" font-size="23.47" fill="#0000FF" textLength="26.11" lengthAdjust="spacingAndGlyphs">10</text><g shape-rendering="crispEdges"><path d="M1209 664L1213 664L1213 665L1214 665L1214 666L1215 666L1215 667L1216 667L1216 671L1215 671L1215 672L1214 672L1214 673L1213 673L1213 674L1209 674L1209 673L1208 673L1208 672L1207 672L1207 671L1206 671L1206 667L1207 667L1207 666L1208 666L1208 665L1209 665Z" fill="#000000"/><path d="M1212 720L1212 721L1213 721L1213 722L1213 722L1213 723L1214 723L1214 724L1214 724L1214 725L1215 725L1215 726L1215 726L1215 727L1216 727L1216 728L1216 728L1216 729L1217 729L1217 730L1217 730L1217 731L1218 731L1218 732L1205 732L1205 731L1206 731L1206 730L1206 730L1206 729L1207 729L1207 728L1207 728L1207 727L1208 727L1208 726L1208 726L1208 725L1209 725L1209 724L1209 724L1209 723L1210 723L1210 722L1210 722L1210 721L1211 721L1211 720Z" fill="#000000"/><path d="M1206 779H1216V790H1206Z" fill="#000000"/></g><text x="1253.96" y="679.00" font-size="23.47" fill="#0000FF" textLength="13.05" lengthAdjust="spacingAndGlyphs">4</text><text x="1254.17" y="737.20" font-size="23.47" fill="#0000FF" textLength="6.52" lengthAdjust="spacingAndGlyphs">f</text><text x="1252.94" y="793.90" font-size="23.47" fill="#0000FF" textLength="7.82" lengthAdjust="spacingAndGlyphs">r</text></g>
</svg>
</body></html>
